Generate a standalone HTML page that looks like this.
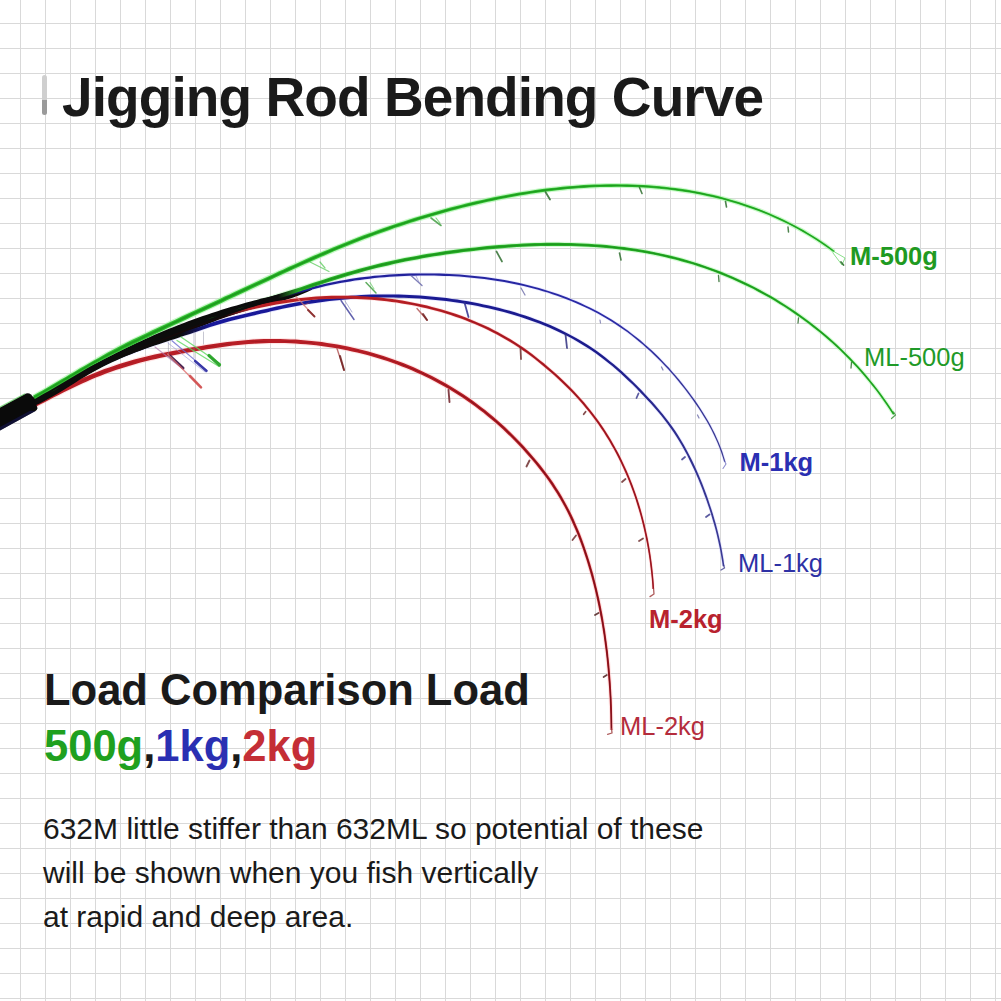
<!DOCTYPE html>
<html><head><meta charset="utf-8">
<style>
html,body{margin:0;padding:0;}
body{width:1001px;height:1001px;overflow:hidden;position:relative;background:#fff;
font-family:"Liberation Sans",sans-serif;}
.grid{position:absolute;left:0;top:0;width:1001px;height:1001px;
background-image:
linear-gradient(to right, #d9d9d9 0, #d9d9d9 1px, transparent 1px),
linear-gradient(to bottom, #d9d9d9 0, #d9d9d9 1px, transparent 1px);
background-size:25px 25px;background-position:20px 23px;}
.t{position:absolute;white-space:nowrap;line-height:1;}
#title{left:62px;top:69.5px;font-size:55px;letter-spacing:-0.92px;font-weight:bold;color:#1a1a1a;}
#bar1{position:absolute;left:42px;top:75px;width:5px;height:40px;border-radius:2.5px;
background:linear-gradient(to bottom,#cfcfcf 0,#cfcfcf 62%,#9a9a9a 62%,#9a9a9a 100%);}
#load{left:44px;top:668.5px;font-size:43.5px;font-weight:bold;color:#1a1a1a;}
#loads{left:44px;top:725px;font-size:43.5px;font-weight:bold;color:#1a1a1a;}
.g{color:#1fa01f}.b{color:#2a2fb2}.r{color:#c42e36}
#desc{left:43px;top:807px;font-size:30px;color:#1a1a1a;line-height:43.8px;}
.lab{position:absolute;white-space:nowrap;line-height:1;font-size:25.5px;}
</style></head><body>
<div class="grid"></div>
<svg id="curves" width="1001" height="1001" style="position:absolute;left:0;top:0" viewBox="0 0 1001 1001">
<defs>
<linearGradient id="gB" gradientUnits="userSpaceOnUse" x1="0" y1="0" x2="1001" y2="0"><stop offset="0.0000" stop-color="#0c0c0c"/><stop offset="0.2777" stop-color="#0c0c0c"/><stop offset="0.2997" stop-color="#28b028"/><stop offset="1.0000" stop-color="#34c234"/></linearGradient>
<linearGradient id="gC" gradientUnits="userSpaceOnUse" x1="0" y1="0" x2="1001" y2="0"><stop offset="0.0000" stop-color="#0c0c0c"/><stop offset="0.2847" stop-color="#0c0c0c"/><stop offset="0.3047" stop-color="#1e1e98"/><stop offset="0.5994" stop-color="#2a2aa6"/><stop offset="0.7293" stop-color="#3a3a8e"/></linearGradient>
<linearGradient id="gD" gradientUnits="userSpaceOnUse" x1="0" y1="0" x2="1001" y2="0"><stop offset="0.0000" stop-color="#0c0c0c"/><stop offset="0.1798" stop-color="#0c0c0c"/><stop offset="0.2118" stop-color="#18189a"/><stop offset="0.5994" stop-color="#1c1c8c"/><stop offset="0.6893" stop-color="#30308e"/><stop offset="0.7293" stop-color="#3c3c96"/></linearGradient>
<linearGradient id="gE" gradientUnits="userSpaceOnUse" x1="0" y1="0" x2="1001" y2="0"><stop offset="0.0000" stop-color="#0c0c0c"/><stop offset="0.2248" stop-color="#1a0808"/><stop offset="0.2498" stop-color="#b82024"/><stop offset="1.0000" stop-color="#bc2028"/></linearGradient>
<linearGradient id="gBand" gradientUnits="userSpaceOnUse" x1="0" y1="0" x2="1001" y2="0"><stop offset="0.0000" stop-color="#0b0b0b"/><stop offset="0.2697" stop-color="#0b0b0b"/><stop offset="0.3117" stop-color="#0b0b0b"/></linearGradient>
</defs>
<path d="M35.8,408.1 40.5,405.6 45.1,403.2 49.8,400.7 54.4,398.3 59.1,395.9 63.8,393.6 68.5,391.2 73.1,388.9 77.8,386.7 82.6,384.5 87.3,382.4 92.0,380.3 96.8,378.3 101.6,376.4 106.4,374.6 111.2,372.8 116.1,371.1 121.0,369.5 125.9,367.9 130.9,366.4 135.8,365.0 140.8,363.7 145.8,362.4 150.9,361.2 155.9,360.0 161.0,358.9 166.1,357.8 171.2,356.8 176.3,355.8 181.5,354.9 186.6,353.9 191.8,353.0 197.0,352.1 202.1,351.2 207.3,350.4 212.4,349.6 217.6,348.8 222.7,348.0 227.9,347.3 233.1,346.7 238.2,346.1 243.4,345.6 248.6,345.2 253.7,344.8 258.9,344.5 264.1,344.3 269.3,344.2 274.5,344.1 279.7,344.2 284.9,344.2 290.1,344.4 295.3,344.7 300.5,345.0 305.7,345.4 310.8,345.9 316.0,346.4 321.2,347.1 326.3,347.8 331.5,348.5 336.6,349.4 341.7,350.3 346.8,351.3 351.9,352.4 357.0,353.6 362.0,354.8 367.0,356.1 372.1,357.5 377.0,359.0 382.0,360.5 386.9,362.1 391.8,363.8 396.7,365.6 401.6,367.4 406.4,369.4 411.2,371.4 415.9,373.4 420.7,375.6 425.3,377.8 430.0,380.1 434.6,382.4 439.2,384.9 443.7,387.4 448.2,390.0 452.6,392.7 457.1,395.4 461.4,398.2 465.7,401.1 470.0,404.1 474.2,407.1 478.4,410.3 482.5,413.4 486.6,416.7 490.6,420.0 494.5,423.4 498.5,426.9 502.3,430.4 506.1,434.0 509.9,437.6 513.6,441.3 517.2,445.0 520.8,448.8 524.3,452.7 527.8,456.6 531.2,460.5 534.5,464.5 537.8,468.6 541.0,472.6 544.1,476.8 547.2,481.0 550.1,485.2 553.0,489.5 555.8,493.8 558.4,498.3 561.0,502.7 563.5,507.3 565.9,511.8 568.2,516.5 570.4,521.2 572.5,525.9 574.6,530.6 576.6,535.5 578.5,540.3 580.3,545.2 582.0,550.1 583.7,555.0 585.3,560.0 586.9,565.0 588.4,570.0 589.8,575.0 591.1,580.1 592.5,585.1 593.7,590.2 594.9,595.3 596.1,600.3 597.1,605.5 598.2,610.6 599.2,615.7 600.1,620.8 601.0,626.0 601.8,631.1 602.6,636.3 603.3,641.5 604.0,646.6 604.7,651.8 605.3,657.0 605.8,662.2 606.3,667.4 606.8,672.6 607.2,677.8 607.6,683.0 608.0,688.3 608.3,693.5 608.6,698.7 608.8,703.9 609.0,709.1 609.2,714.3 609.3,719.6 609.4,724.8 609.5,730.0 613.5,730.0 613.4,724.7 613.3,719.5 613.2,714.2 613.1,709.0 612.9,703.7 612.7,698.5 612.4,693.2 612.1,688.0 611.8,682.8 611.4,677.5 611.0,672.3 610.6,667.0 610.1,661.8 609.5,656.6 608.9,651.3 608.3,646.1 607.6,640.9 606.9,635.7 606.1,630.5 605.3,625.3 604.5,620.1 603.5,614.9 602.6,609.7 601.5,604.5 600.5,599.4 599.3,594.2 598.1,589.1 596.9,584.0 595.6,578.9 594.2,573.8 592.8,568.7 591.3,563.6 589.8,558.6 588.2,553.6 586.5,548.5 584.7,543.6 582.9,538.6 581.0,533.7 579.0,528.8 576.9,523.9 574.8,519.1 572.5,514.4 570.2,509.6 567.8,505.0 565.3,500.3 562.7,495.8 560.0,491.2 557.2,486.8 554.3,482.4 551.3,478.1 548.2,473.8 545.0,469.6 541.8,465.4 538.5,461.3 535.1,457.2 531.6,453.2 528.1,449.2 524.6,445.3 521.0,441.5 517.3,437.6 513.6,433.9 509.8,430.2 505.9,426.5 502.0,422.9 498.0,419.4 494.0,416.0 490.0,412.6 485.8,409.2 481.6,406.0 477.4,402.8 473.1,399.7 468.8,396.6 464.4,393.7 460.0,390.8 455.5,388.0 451.0,385.2 446.5,382.6 441.9,380.0 437.2,377.5 432.5,375.1 427.8,372.7 423.0,370.4 418.2,368.2 413.4,366.1 408.5,364.1 403.7,362.1 398.7,360.2 393.8,358.4 388.8,356.7 383.8,355.0 378.7,353.4 373.7,351.9 368.6,350.5 363.5,349.1 358.3,347.8 353.2,346.6 348.0,345.5 342.8,344.5 337.7,343.5 332.4,342.6 327.2,341.8 322.0,341.1 316.7,340.4 311.5,339.8 306.2,339.3 300.9,338.9 295.6,338.5 290.4,338.3 285.1,338.1 279.8,337.9 274.5,337.9 269.2,337.9 263.9,338.0 258.6,338.2 253.4,338.5 248.1,338.9 242.8,339.3 237.6,339.8 232.3,340.4 227.1,341.0 221.9,341.7 216.7,342.4 211.4,343.2 206.2,344.0 201.0,344.8 195.9,345.7 190.7,346.6 185.5,347.4 180.3,348.4 175.1,349.3 169.9,350.3 164.8,351.3 159.6,352.4 154.5,353.5 149.3,354.6 144.2,355.8 139.1,357.1 134.0,358.5 129.0,359.9 123.9,361.4 118.9,363.0 113.9,364.6 108.9,366.3 104.0,368.1 99.1,370.0 94.2,371.9 89.3,373.9 84.5,376.0 79.7,378.1 74.9,380.3 70.1,382.6 65.3,384.9 60.6,387.2 55.9,389.6 51.2,392.0 46.5,394.4 41.8,396.8 37.1,399.3 32.5,401.7Z" fill="#ffc0c0" opacity="0.4"/>
<path d="M34.9,404.1 40.0,402.0 45.0,399.8 49.8,397.4 54.6,394.9 59.4,392.3 64.1,389.6 68.7,386.8 73.3,384.0 77.9,381.2 82.4,378.5 87.0,375.7 91.6,373.1 96.2,370.5 100.9,368.1 105.6,365.7 110.3,363.5 115.1,361.3 120.0,359.2 124.8,357.2 129.7,355.2 134.7,353.4 139.6,351.5 144.6,349.7 149.6,348.0 154.7,346.3 159.7,344.6 164.8,342.9 169.9,341.3 175.0,339.6 180.1,338.0 185.2,336.3 190.3,334.6 195.3,332.9 200.4,331.2 205.4,329.4 210.4,327.7 215.5,326.1 220.5,324.6 225.6,323.1 230.7,321.8 235.8,320.5 241.0,319.3 246.2,318.1 251.4,316.8 256.6,315.6 261.8,314.3 266.9,313.1 272.1,311.9 277.3,310.7 282.5,309.6 287.7,308.5 292.9,307.4 298.1,306.5 303.3,305.5 308.5,304.7 313.7,303.9 319.0,303.2 324.3,302.5 329.5,301.8 334.8,301.2 340.1,300.7 345.4,300.2 350.8,299.8 356.1,299.4 361.4,299.1 366.7,298.8 372.0,298.6 377.4,298.4 382.7,298.3 388.0,298.3 393.3,298.3 398.6,298.4 403.9,298.5 409.2,298.7 414.5,299.0 419.8,299.3 425.1,299.7 430.3,300.2 435.6,300.7 440.9,301.2 446.2,301.8 451.4,302.5 456.7,303.3 461.9,304.1 467.2,304.9 472.4,305.9 477.6,306.9 482.9,307.9 488.1,309.0 493.3,310.2 498.5,311.5 503.6,312.8 508.8,314.2 513.9,315.7 519.0,317.2 524.0,318.9 529.1,320.6 534.1,322.4 539.0,324.2 544.0,326.2 548.8,328.2 553.7,330.4 558.5,332.6 563.2,334.9 567.9,337.3 572.6,339.8 577.2,342.4 581.7,345.1 586.2,347.9 590.6,350.7 595.0,353.7 599.3,356.8 603.5,360.0 607.7,363.3 611.8,366.7 615.8,370.1 619.8,373.6 623.8,377.2 627.7,380.9 631.5,384.6 635.3,388.4 639.1,392.2 642.8,396.0 646.4,399.9 650.0,403.8 653.5,407.8 657.0,411.8 660.4,415.8 663.7,419.9 666.9,424.1 670.0,428.4 672.9,432.7 675.8,437.1 678.6,441.6 681.3,446.2 683.9,450.8 686.4,455.5 688.8,460.2 691.2,465.0 693.4,469.8 695.6,474.7 697.7,479.6 699.7,484.5 701.7,489.5 703.5,494.5 705.3,499.5 707.1,504.5 708.8,509.5 710.4,514.5 711.9,519.6 713.4,524.7 714.8,529.8 716.1,534.9 717.3,540.0 718.4,545.2 719.4,550.4 720.4,555.7 721.3,560.9 722.0,566.3 725.1,565.9 724.3,560.5 723.5,555.1 722.5,549.8 721.5,544.6 720.4,539.3 719.2,534.1 717.9,528.9 716.5,523.8 715.0,518.7 713.5,513.6 711.9,508.5 710.2,503.4 708.5,498.4 706.7,493.3 704.8,488.3 702.9,483.3 700.8,478.3 698.7,473.3 696.6,468.4 694.3,463.5 691.9,458.7 689.5,453.9 687.0,449.1 684.4,444.4 681.7,439.8 678.8,435.2 675.9,430.7 672.9,426.3 669.8,422.0 666.5,417.7 663.2,413.5 659.8,409.4 656.3,405.3 652.8,401.3 649.1,397.4 645.5,393.5 641.8,389.6 638.0,385.7 634.2,381.9 630.3,378.1 626.4,374.4 622.4,370.8 618.4,367.2 614.3,363.7 610.1,360.3 605.9,356.9 601.6,353.7 597.3,350.5 592.8,347.5 588.3,344.5 583.8,341.7 579.2,338.9 574.5,336.3 569.8,333.7 565.1,331.3 560.2,328.9 555.4,326.6 550.5,324.5 545.5,322.4 540.5,320.4 535.5,318.5 530.5,316.6 525.4,314.9 520.2,313.2 515.1,311.6 509.9,310.1 504.7,308.7 499.5,307.3 494.3,306.0 489.0,304.8 483.8,303.7 478.5,302.6 473.2,301.6 467.9,300.6 462.6,299.7 457.3,298.9 452.0,298.1 446.7,297.4 441.4,296.8 436.1,296.2 430.8,295.6 425.4,295.2 420.1,294.8 414.8,294.4 409.4,294.2 404.1,293.9 398.7,293.8 393.4,293.7 388.0,293.6 382.6,293.7 377.3,293.7 371.9,293.9 366.5,294.1 361.1,294.3 355.8,294.6 350.4,295.0 345.0,295.4 339.7,295.9 334.3,296.4 329.0,297.0 323.7,297.6 318.3,298.3 313.0,299.0 307.8,299.8 302.5,300.7 297.2,301.6 292.0,302.5 286.7,303.6 281.5,304.6 276.2,305.8 271.0,306.9 265.8,308.1 260.6,309.4 255.4,310.6 250.2,311.8 245.0,313.0 239.8,314.3 234.6,315.5 229.4,316.8 224.2,318.1 219.0,319.6 213.9,321.1 208.8,322.7 203.7,324.4 198.7,326.2 193.6,327.9 188.6,329.5 183.5,331.2 178.4,332.8 173.3,334.5 168.2,336.1 163.1,337.8 158.0,339.4 153.0,341.1 147.9,342.8 142.8,344.5 137.8,346.3 132.7,348.2 127.7,350.1 122.7,352.0 117.8,354.0 112.9,356.2 108.0,358.4 103.1,360.6 98.3,363.0 93.5,365.5 88.8,368.1 84.1,370.8 79.5,373.6 74.9,376.3 70.3,379.1 65.7,381.9 61.1,384.6 56.5,387.2 51.9,389.8 47.2,392.2 42.5,394.5 37.7,396.6 32.9,398.5Z" fill="#c0c0ff" opacity="0.4"/>
<path d="M35.2,403.6 39.8,401.3 44.3,399.0 48.8,396.6 53.3,394.2 57.8,391.8 62.2,389.3 66.6,386.9 71.1,384.4 75.5,381.9 79.9,379.4 84.2,377.0 88.6,374.5 93.0,372.1 97.5,369.7 101.9,367.3 106.3,365.0 110.8,362.7 115.3,360.5 119.8,358.4 124.3,356.3 128.9,354.2 133.5,352.3 138.1,350.3 142.8,348.5 147.5,346.6 152.2,344.8 156.9,343.0 161.6,341.2 166.3,339.4 171.0,337.6 175.8,335.7 180.5,333.9 185.2,332.1 189.9,330.3 194.6,328.5 199.3,326.7 204.0,325.0 208.7,323.3 213.5,321.6 218.2,320.0 223.0,318.4 227.8,316.9 232.6,315.5 237.4,314.1 242.2,312.8 247.1,311.5 252.0,310.3 256.9,309.2 261.8,308.1 266.7,307.1 271.6,306.1 276.6,305.3 281.6,304.4 286.5,303.7 291.5,303.0 296.5,302.3 301.5,301.7 306.5,301.2 311.5,300.8 316.5,300.4 321.5,300.1 326.5,299.8 331.6,299.6 336.6,299.5 341.6,299.5 346.6,299.5 351.7,299.6 356.7,299.7 361.7,299.9 366.7,300.2 371.7,300.6 376.7,301.0 381.7,301.5 386.7,302.0 391.7,302.7 396.7,303.4 401.6,304.1 406.6,305.0 411.5,305.9 416.4,306.9 421.3,307.9 426.2,309.0 431.1,310.2 436.0,311.5 440.8,312.9 445.6,314.3 450.4,315.8 455.2,317.4 459.9,319.0 464.6,320.8 469.3,322.6 473.9,324.5 478.5,326.4 483.1,328.5 487.6,330.6 492.1,332.8 496.5,335.1 500.9,337.5 505.3,340.0 509.6,342.6 513.8,345.2 518.0,347.9 522.2,350.8 526.3,353.7 530.3,356.7 534.3,359.7 538.3,362.8 542.2,366.0 546.0,369.3 549.9,372.5 553.7,375.9 557.4,379.3 561.1,382.7 564.7,386.2 568.3,389.7 571.8,393.3 575.2,397.0 578.6,400.7 581.9,404.5 585.2,408.3 588.3,412.2 591.4,416.2 594.4,420.2 597.4,424.2 600.2,428.4 603.0,432.5 605.7,436.7 608.3,441.0 610.8,445.3 613.2,449.7 615.6,454.1 617.9,458.6 620.1,463.0 622.3,467.6 624.3,472.2 626.3,476.8 628.2,481.4 630.0,486.1 631.8,490.8 633.5,495.5 635.1,500.3 636.6,505.1 638.1,509.9 639.5,514.8 640.8,519.6 642.0,524.5 643.2,529.4 644.3,534.3 645.3,539.3 646.3,544.2 647.1,549.2 648.0,554.1 648.7,559.1 649.4,564.1 650.0,569.1 650.5,574.1 651.0,579.1 651.4,584.1 651.8,589.1 654.9,588.9 654.5,583.9 654.1,578.8 653.7,573.8 653.1,568.7 652.5,563.7 651.9,558.7 651.1,553.6 650.3,548.6 649.4,543.6 648.5,538.6 647.5,533.6 646.4,528.7 645.2,523.7 644.0,518.8 642.7,513.9 641.3,509.0 639.8,504.1 638.3,499.2 636.7,494.4 635.0,489.6 633.2,484.9 631.4,480.1 629.5,475.4 627.5,470.8 625.4,466.1 623.3,461.5 621.0,457.0 618.7,452.5 616.3,448.0 613.9,443.6 611.3,439.2 608.7,434.9 606.0,430.6 603.2,426.3 600.3,422.2 597.4,418.0 594.3,414.0 591.2,409.9 588.0,406.0 584.7,402.1 581.4,398.3 578.0,394.5 574.5,390.8 571.0,387.1 567.3,383.5 563.7,380.0 560.0,376.5 556.2,373.0 552.4,369.7 548.5,366.3 544.6,363.0 540.7,359.8 536.7,356.6 532.7,353.5 528.6,350.5 524.4,347.5 520.2,344.7 516.0,341.9 511.7,339.2 507.3,336.5 502.9,334.0 498.4,331.6 493.9,329.2 489.4,327.0 484.8,324.8 480.2,322.7 475.5,320.7 470.8,318.7 466.1,316.9 461.3,315.1 456.5,313.4 451.7,311.8 446.9,310.3 442.0,308.8 437.1,307.4 432.2,306.1 427.2,304.9 422.3,303.7 417.3,302.7 412.3,301.7 407.3,300.7 402.3,299.8 397.3,299.1 392.3,298.3 387.2,297.7 382.2,297.1 377.1,296.6 372.1,296.1 367.0,295.8 361.9,295.5 356.8,295.2 351.8,295.1 346.7,295.0 341.6,294.9 336.5,295.0 331.4,295.1 326.4,295.3 321.3,295.5 316.2,295.8 311.1,296.2 306.1,296.6 301.0,297.1 295.9,297.7 290.9,298.3 285.8,299.0 280.8,299.8 275.8,300.6 270.8,301.5 265.8,302.4 260.8,303.5 255.8,304.5 250.9,305.7 245.9,306.9 241.0,308.1 236.1,309.5 231.2,310.8 226.4,312.3 221.5,313.8 216.7,315.3 211.9,317.0 207.1,318.6 202.3,320.3 197.6,322.1 192.8,323.8 188.1,325.6 183.4,327.4 178.7,329.2 174.0,331.0 169.2,332.8 164.5,334.6 159.8,336.4 155.1,338.2 150.3,340.0 145.6,341.8 140.9,343.7 136.2,345.6 131.5,347.5 126.8,349.5 122.2,351.5 117.6,353.6 113.0,355.8 108.4,358.0 103.9,360.3 99.4,362.7 95.0,365.0 90.5,367.4 86.1,369.9 81.6,372.3 77.2,374.8 72.8,377.2 68.4,379.7 64.0,382.2 59.6,384.6 55.2,387.0 50.7,389.4 46.3,391.8 41.8,394.1 37.3,396.4 32.8,398.6Z" fill="#ffc0c0" opacity="0.4"/>
<path d="M35.1,402.8 39.6,400.5 44.1,398.2 48.5,395.9 53.0,393.6 57.4,391.2 61.8,388.8 66.2,386.4 70.5,383.9 74.9,381.5 79.3,379.1 83.6,376.6 88.0,374.2 92.3,371.8 96.7,369.5 101.1,367.1 105.5,364.8 109.9,362.5 114.3,360.2 118.7,358.0 123.2,355.9 127.7,353.8 132.2,351.7 136.8,349.7 141.3,347.7 145.9,345.8 150.5,343.9 155.1,342.0 159.8,340.1 164.4,338.3 169.1,336.5 173.7,334.7 178.4,332.9 183.0,331.1 187.7,329.3 192.4,327.6 197.0,325.8 201.7,324.1 206.4,322.5 211.1,320.8 215.8,319.2 220.5,317.7 225.2,316.1 230.0,314.6 234.7,313.1 239.5,311.7 244.2,310.2 249.0,308.8 253.8,307.4 258.6,306.0 263.4,304.5 268.2,303.1 273.0,301.7 277.8,300.2 282.6,298.8 287.4,297.3 292.2,295.9 297.0,294.5 301.9,293.1 306.7,291.8 311.5,290.5 316.3,289.2 321.1,288.0 326.0,286.9 330.8,285.8 335.6,284.8 340.5,283.8 345.4,283.0 350.2,282.1 355.1,281.4 360.0,280.7 364.9,280.0 369.8,279.4 374.7,278.9 379.6,278.4 384.5,277.9 389.5,277.6 394.4,277.2 399.4,276.9 404.3,276.7 409.3,276.5 414.3,276.4 419.2,276.3 424.2,276.3 429.2,276.3 434.2,276.3 439.2,276.5 444.3,276.6 449.3,276.8 454.3,277.1 459.3,277.4 464.3,277.8 469.3,278.2 474.3,278.7 479.3,279.2 484.3,279.8 489.2,280.5 494.2,281.2 499.1,282.0 504.1,282.8 509.0,283.7 513.9,284.7 518.8,285.7 523.6,286.8 528.5,288.0 533.3,289.2 538.1,290.5 542.8,291.9 547.6,293.4 552.3,294.9 557.0,296.5 561.6,298.1 566.2,299.9 570.8,301.7 575.4,303.6 579.9,305.6 584.4,307.6 588.8,309.8 593.2,312.0 597.5,314.3 601.8,316.7 606.1,319.1 610.3,321.7 614.5,324.3 618.6,327.0 622.7,329.8 626.7,332.7 630.7,335.7 634.6,338.8 638.5,341.9 642.3,345.2 646.1,348.4 649.8,351.8 653.4,355.2 657.0,358.7 660.5,362.3 664.0,365.9 667.4,369.6 670.8,373.3 674.1,377.1 677.3,380.9 680.5,384.8 683.6,388.8 686.6,392.7 689.6,396.7 692.5,400.8 695.4,404.8 698.2,409.0 700.9,413.1 703.5,417.3 706.0,421.5 708.4,425.8 710.7,430.1 712.9,434.5 715.0,439.0 717.0,443.5 718.8,448.1 720.5,452.7 722.1,457.5 723.5,462.3 726.1,461.6 724.7,456.7 723.1,451.8 721.4,447.1 719.5,442.4 717.5,437.8 715.4,433.3 713.2,428.9 710.9,424.5 708.4,420.1 705.9,415.8 703.2,411.6 700.5,407.4 697.7,403.2 694.9,399.1 692.0,395.0 689.0,391.0 685.9,387.0 682.8,383.0 679.6,379.1 676.3,375.2 673.0,371.4 669.6,367.6 666.2,363.9 662.7,360.2 659.1,356.6 655.5,353.1 651.8,349.6 648.1,346.2 644.3,342.8 640.4,339.6 636.5,336.4 632.6,333.3 628.6,330.2 624.5,327.3 620.4,324.4 616.2,321.7 612.0,319.0 607.7,316.4 603.4,313.9 599.1,311.5 594.7,309.1 590.2,306.9 585.7,304.7 581.2,302.6 576.7,300.6 572.1,298.7 567.4,296.8 562.8,295.0 558.1,293.3 553.3,291.7 548.6,290.2 543.8,288.7 539.0,287.3 534.1,286.0 529.3,284.7 524.4,283.5 519.5,282.4 514.6,281.3 509.6,280.3 504.7,279.4 499.7,278.5 494.7,277.7 489.7,277.0 484.7,276.3 479.7,275.7 474.7,275.2 469.6,274.7 464.6,274.2 459.5,273.8 454.5,273.5 449.4,273.2 444.4,273.0 439.3,272.8 434.3,272.7 429.3,272.6 424.2,272.6 419.2,272.6 414.2,272.7 409.2,272.8 404.2,273.0 399.2,273.2 394.2,273.5 389.2,273.8 384.2,274.2 379.3,274.6 374.3,275.1 369.3,275.6 364.4,276.2 359.5,276.9 354.5,277.6 349.6,278.3 344.7,279.2 339.8,280.0 334.9,281.0 330.0,282.0 325.1,283.1 320.2,284.2 315.3,285.4 310.5,286.6 305.6,287.9 300.8,289.3 295.9,290.7 291.1,292.1 286.3,293.5 281.5,294.9 276.6,296.4 271.8,297.8 267.0,299.2 262.2,300.6 257.4,302.1 252.6,303.5 247.9,304.9 243.1,306.3 238.3,307.7 233.5,309.2 228.7,310.6 224.0,312.1 219.2,313.7 214.5,315.2 209.7,316.9 205.0,318.5 200.3,320.2 195.6,321.9 190.9,323.6 186.2,325.3 181.5,327.1 176.8,328.8 172.2,330.6 167.5,332.4 162.8,334.3 158.2,336.1 153.5,338.0 148.9,339.8 144.2,341.7 139.6,343.7 135.0,345.7 130.4,347.7 125.9,349.7 121.3,351.9 116.8,354.0 112.3,356.2 107.8,358.5 103.4,360.8 99.0,363.1 94.6,365.5 90.2,367.8 85.8,370.2 81.4,372.7 77.0,375.1 72.7,377.5 68.3,379.9 63.9,382.3 59.6,384.7 55.2,387.1 50.8,389.5 46.4,391.8 41.9,394.1 37.5,396.3 33.0,398.6Z" fill="#c0c0ff" opacity="0.4"/>
<path d="M35.5,403.4 41.0,400.9 46.4,398.3 51.8,395.6 57.1,392.8 62.4,389.9 67.6,386.9 72.8,384.0 77.9,381.0 83.0,378.0 88.2,375.1 93.3,372.2 98.5,369.4 103.7,366.7 109.0,364.0 114.2,361.4 119.5,358.9 124.9,356.4 130.2,353.9 135.6,351.5 141.1,349.1 146.5,346.8 151.9,344.5 157.4,342.2 162.9,339.9 168.4,337.7 173.9,335.5 179.4,333.3 184.9,331.2 190.5,329.1 196.0,327.0 201.6,324.9 207.2,322.9 212.8,320.9 218.4,319.0 224.0,317.0 229.6,315.1 235.2,313.2 240.8,311.4 246.5,309.6 252.1,307.8 257.8,306.0 263.4,304.3 269.1,302.5 274.7,300.8 280.4,299.0 286.0,297.2 291.7,295.4 297.3,293.6 303.0,291.7 308.6,289.8 314.2,287.9 319.9,286.0 325.5,284.1 331.2,282.3 336.8,280.5 342.5,278.8 348.2,277.0 354.0,275.4 359.7,273.8 365.4,272.2 371.2,270.7 376.9,269.2 382.7,267.8 388.4,266.5 394.2,265.2 399.9,263.9 405.7,262.7 411.5,261.5 417.2,260.4 423.0,259.4 428.8,258.4 434.6,257.4 440.4,256.5 446.3,255.6 452.1,254.8 457.9,254.0 463.8,253.2 469.7,252.5 475.6,251.8 481.4,251.2 487.4,250.5 493.3,250.0 499.2,249.5 505.1,249.0 511.1,248.6 517.0,248.2 523.0,247.9 528.9,247.6 534.9,247.3 540.8,247.2 546.8,247.0 552.7,247.0 558.7,247.0 564.6,247.0 570.6,247.1 576.5,247.3 582.4,247.5 588.4,247.8 594.3,248.2 600.2,248.6 606.1,249.1 612.0,249.7 617.9,250.3 623.8,251.0 629.6,251.8 635.4,252.7 641.3,253.6 647.1,254.6 652.9,255.7 658.6,256.9 664.4,258.1 670.1,259.5 675.8,260.9 681.5,262.4 687.2,264.0 692.8,265.7 698.4,267.5 704.0,269.3 709.6,271.3 715.1,273.3 720.6,275.5 726.1,277.7 731.5,280.0 736.9,282.4 742.3,284.9 747.6,287.5 752.9,290.1 758.1,292.8 763.3,295.7 768.5,298.6 773.6,301.5 778.7,304.6 783.7,307.7 788.6,311.0 793.6,314.3 798.4,317.6 803.2,321.1 808.0,324.6 812.7,328.2 817.3,331.9 821.9,335.7 826.4,339.5 830.8,343.4 835.2,347.4 839.5,351.4 843.8,355.6 847.9,359.8 852.0,364.0 856.1,368.3 860.0,372.7 863.9,377.2 867.7,381.7 871.4,386.3 875.1,391.0 878.7,395.7 882.1,400.5 885.5,405.4 888.8,410.3 892.1,415.3 895.4,413.2 892.1,408.2 888.8,403.2 885.4,398.2 881.9,393.4 878.3,388.6 874.6,383.8 870.8,379.2 867.0,374.6 863.1,370.0 859.1,365.6 855.0,361.2 850.9,356.9 846.7,352.6 842.4,348.4 838.1,344.3 833.6,340.3 829.2,336.3 824.6,332.4 820.0,328.6 815.3,324.8 810.6,321.2 805.8,317.6 800.9,314.1 796.0,310.6 791.1,307.3 786.1,304.0 781.0,300.8 775.9,297.7 770.7,294.7 765.5,291.7 760.3,288.8 755.0,286.0 749.6,283.3 744.2,280.7 738.8,278.2 733.4,275.8 727.9,273.4 722.4,271.1 716.8,268.9 711.2,266.9 705.6,264.8 699.9,262.9 694.2,261.1 688.5,259.4 682.8,257.8 677.0,256.2 671.3,254.7 665.5,253.4 659.7,252.1 653.8,250.9 648.0,249.7 642.1,248.7 636.2,247.7 630.3,246.8 624.4,246.0 618.5,245.3 612.5,244.6 606.6,244.0 600.6,243.5 594.6,243.1 588.7,242.7 582.7,242.3 576.7,242.1 570.7,241.9 564.7,241.8 558.7,241.7 552.7,241.7 546.7,241.7 540.7,241.8 534.7,242.0 528.7,242.2 522.7,242.5 516.7,242.8 510.7,243.1 504.7,243.6 498.7,244.0 492.8,244.5 486.8,245.1 480.9,245.6 474.9,246.3 469.0,246.9 463.1,247.6 457.2,248.4 451.3,249.2 445.4,250.0 439.6,250.9 433.7,251.8 427.9,252.7 422.0,253.7 416.2,254.8 410.4,255.9 404.5,257.0 398.7,258.2 392.9,259.4 387.1,260.7 381.3,262.1 375.5,263.5 369.7,264.9 363.9,266.4 358.1,268.0 352.3,269.6 346.6,271.3 340.8,273.0 335.1,274.7 329.3,276.5 323.6,278.3 317.9,280.2 312.3,282.1 306.6,283.9 301.0,285.8 295.4,287.7 289.8,289.5 284.2,291.3 278.5,293.0 272.9,294.8 267.2,296.5 261.6,298.2 255.9,300.0 250.2,301.7 244.5,303.5 238.9,305.3 233.2,307.1 227.6,309.0 221.9,310.9 216.3,312.8 210.6,314.8 205.0,316.8 199.4,318.8 193.8,320.8 188.2,322.9 182.6,325.0 177.0,327.1 171.4,329.3 165.9,331.5 160.4,333.7 154.8,336.0 149.3,338.3 143.8,340.6 138.4,342.9 132.9,345.3 127.5,347.7 122.0,350.1 116.6,352.6 111.2,355.2 105.9,357.8 100.5,360.5 95.2,363.3 90.0,366.1 84.8,369.0 79.6,371.9 74.4,374.9 69.2,377.9 64.1,380.8 58.9,383.7 53.7,386.5 48.5,389.3 43.3,391.9 38.0,394.4 32.6,396.8Z" fill="#a0f2a0" opacity="0.4"/>
<path d="M35.4,400.0 40.1,397.3 44.8,394.7 49.5,391.9 54.2,389.2 58.8,386.5 63.5,383.7 68.1,381.0 72.8,378.2 77.4,375.5 82.1,372.8 86.7,370.1 91.4,367.4 96.0,364.7 100.8,362.2 105.5,359.7 110.3,357.3 115.1,354.9 119.9,352.5 124.7,350.2 129.6,347.8 134.4,345.5 139.2,343.1 144.1,340.8 148.9,338.5 153.8,336.1 158.7,333.8 163.5,331.5 168.4,329.2 173.3,326.9 178.1,324.6 183.0,322.3 187.9,320.0 192.7,317.7 197.6,315.4 202.5,313.1 207.4,310.8 212.3,308.5 217.2,306.2 222.0,304.0 226.9,301.7 231.8,299.4 236.7,297.1 241.6,294.8 246.5,292.5 251.4,290.2 256.3,287.9 261.1,285.6 266.0,283.3 270.9,281.0 275.8,278.7 280.7,276.4 285.6,274.1 290.5,271.9 295.4,269.6 300.3,267.4 305.2,265.2 310.1,263.0 315.1,260.8 320.0,258.6 324.9,256.5 329.9,254.4 334.8,252.3 339.8,250.2 344.7,248.1 349.7,246.1 354.7,244.1 359.7,242.2 364.7,240.2 369.7,238.3 374.8,236.5 379.8,234.6 384.9,232.8 389.9,231.0 395.0,229.3 400.1,227.6 405.2,225.9 410.3,224.2 415.4,222.6 420.5,221.0 425.6,219.4 430.8,217.9 436.0,216.3 441.1,214.9 446.3,213.4 451.5,212.0 456.7,210.6 461.9,209.3 467.2,207.9 472.4,206.7 477.6,205.4 482.9,204.2 488.2,203.0 493.4,201.9 498.7,200.8 504.0,199.7 509.3,198.7 514.6,197.7 519.9,196.8 525.2,195.9 530.5,195.0 535.9,194.2 541.2,193.4 546.5,192.7 551.9,192.1 557.2,191.4 562.6,190.9 567.9,190.3 573.3,189.9 578.6,189.4 584.0,189.1 589.3,188.8 594.7,188.5 600.0,188.3 605.4,188.1 610.8,188.1 616.1,188.0 621.5,188.0 626.8,188.1 632.2,188.3 637.5,188.5 642.9,188.7 648.2,189.0 653.6,189.4 658.9,189.9 664.3,190.4 669.6,191.0 674.9,191.6 680.2,192.4 685.5,193.2 690.8,194.0 696.1,195.0 701.4,196.0 706.6,197.1 711.8,198.2 717.1,199.4 722.3,200.8 727.4,202.2 732.6,203.6 737.7,205.2 742.9,206.8 748.0,208.5 753.0,210.3 758.1,212.2 763.1,214.2 768.1,216.2 773.0,218.3 777.9,220.5 782.8,222.8 787.6,225.2 792.4,227.7 797.2,230.2 801.8,232.8 806.5,235.5 811.0,238.3 815.6,241.1 820.0,244.0 824.4,247.0 828.7,250.1 833.0,253.2 835.4,250.0 831.1,246.8 826.8,243.6 822.3,240.6 817.8,237.6 813.3,234.7 808.6,231.8 804.0,229.1 799.2,226.4 794.4,223.9 789.6,221.3 784.7,218.9 779.8,216.6 774.8,214.3 769.8,212.2 764.8,210.1 759.7,208.0 754.6,206.1 749.4,204.3 744.3,202.5 739.1,200.8 733.9,199.2 728.7,197.7 723.4,196.3 718.2,195.0 712.9,193.7 707.6,192.5 702.3,191.4 697.0,190.3 691.6,189.4 686.3,188.5 680.9,187.6 675.5,186.9 670.2,186.2 664.8,185.6 659.4,185.0 654.0,184.6 648.6,184.1 643.2,183.8 637.8,183.5 632.4,183.3 627.0,183.1 621.5,183.0 616.1,183.0 610.7,183.0 605.3,183.0 599.9,183.2 594.5,183.4 589.1,183.6 583.7,183.9 578.2,184.3 572.8,184.7 567.4,185.1 562.0,185.6 556.6,186.2 551.2,186.8 545.9,187.4 540.5,188.1 535.1,188.9 529.7,189.7 524.4,190.5 519.0,191.4 513.6,192.3 508.3,193.3 503.0,194.3 497.6,195.3 492.3,196.4 487.0,197.5 481.7,198.7 476.4,199.9 471.1,201.2 465.8,202.4 460.5,203.7 455.3,205.1 450.0,206.5 444.8,207.9 439.6,209.3 434.4,210.8 429.2,212.3 424.0,213.8 418.8,215.4 413.6,216.9 408.5,218.6 403.3,220.2 398.2,221.9 393.1,223.6 387.9,225.4 382.8,227.1 377.8,228.9 372.7,230.8 367.6,232.6 362.5,234.5 357.5,236.4 352.5,238.4 347.4,240.4 342.4,242.4 337.4,244.4 332.4,246.5 327.4,248.6 322.4,250.7 317.5,252.8 312.5,255.0 307.6,257.2 302.6,259.4 297.7,261.6 292.7,263.8 287.8,266.0 282.9,268.3 278.0,270.5 273.1,272.8 268.2,275.1 263.3,277.3 258.4,279.6 253.5,281.9 248.6,284.2 243.7,286.5 238.8,288.7 233.9,291.0 229.0,293.3 224.1,295.6 219.2,297.8 214.3,300.1 209.4,302.4 204.5,304.6 199.6,306.9 194.7,309.2 189.8,311.5 184.9,313.7 180.1,316.0 175.2,318.3 170.3,320.6 165.4,322.9 160.5,325.2 155.6,327.5 150.8,329.8 145.9,332.1 141.0,334.4 136.1,336.7 131.3,339.0 126.4,341.4 121.6,343.8 116.8,346.3 112.0,348.9 107.2,351.5 102.5,354.1 97.8,356.8 93.1,359.5 88.4,362.2 83.7,364.9 79.0,367.6 74.4,370.3 69.7,373.1 65.1,375.8 60.4,378.6 55.8,381.3 51.1,384.0 46.5,386.8 41.8,389.4 37.1,392.1 32.5,394.7Z" fill="#a0f2a0" opacity="0.55"/>
<path d="M35.3,407.1 40.0,404.6 44.6,402.2 49.3,399.8 53.9,397.3 58.6,394.9 63.3,392.6 68.0,390.2 72.7,387.9 77.4,385.7 82.1,383.5 86.8,381.4 91.6,379.3 96.4,377.3 101.2,375.4 106.0,373.5 110.9,371.8 115.8,370.1 120.7,368.4 125.6,366.9 130.5,365.4 135.5,364.0 140.5,362.6 145.6,361.3 150.6,360.1 155.7,358.9 160.8,357.8 165.9,356.7 171.0,355.7 176.1,354.7 181.3,353.8 186.4,352.8 191.6,351.9 196.8,351.0 201.9,350.2 207.1,349.3 212.3,348.5 217.4,347.7 222.6,347.0 227.8,346.3 232.9,345.6 238.1,345.0 243.3,344.5 248.5,344.1 253.7,343.7 258.9,343.4 264.1,343.2 269.3,343.1 274.5,343.0 279.7,343.1 284.9,343.1 290.1,343.3 295.4,343.6 300.6,343.9 305.8,344.3 311.0,344.8 316.1,345.3 321.3,346.0 326.5,346.7 331.7,347.5 336.8,348.3 341.9,349.3 347.0,350.3 352.1,351.4 357.2,352.5 362.3,353.8 367.3,355.1 372.4,356.5 377.4,357.9 382.3,359.5 387.3,361.1 392.2,362.8 397.1,364.6 402.0,366.4 406.8,368.3 411.6,370.3 416.4,372.4 421.1,374.6 425.8,376.8 430.5,379.1 435.1,381.5 439.7,383.9 444.3,386.5 448.8,389.1 453.2,391.7 457.6,394.5 462.0,397.3 466.3,400.2 470.6,403.2 474.9,406.3 479.0,409.4 483.2,412.6 487.3,415.9 491.3,419.2 495.3,422.6 499.2,426.1 503.1,429.6 506.9,433.2 510.7,436.8 514.4,440.5 518.0,444.3 521.6,448.1 525.1,451.9 528.6,455.9 532.0,459.8 535.4,463.8 538.7,467.9 541.9,472.0 545.0,476.1 548.1,480.3 551.0,484.6 553.9,488.9 556.7,493.3 559.4,497.7 562.0,502.2 564.5,506.7 566.9,511.3 569.2,516.0 571.4,520.7 573.5,525.4 575.6,530.2 577.6,535.0 579.5,539.9 581.3,544.8 583.1,549.7 584.7,554.7 586.4,559.7 587.9,564.7 589.4,569.7 590.8,574.7 592.2,579.8 593.5,584.8 594.8,589.9 596.0,595.0 597.1,600.1 598.2,605.2 599.3,610.4 600.2,615.5 601.2,620.6 602.1,625.8 602.9,631.0 603.7,636.1 604.4,641.3 605.1,646.5 605.8,651.7 606.4,656.9 606.9,662.1 607.4,667.3 607.9,672.5 608.3,677.7 608.7,683.0 609.1,688.2 609.4,693.4 609.7,698.6 609.9,703.9 610.1,709.1 610.3,714.3 610.4,719.5 610.5,724.8 610.6,730.0 612.4,730.0 612.3,724.7 612.2,719.5 612.1,714.3 612.0,709.0 611.8,703.8 611.6,698.5 611.3,693.3 611.0,688.1 610.7,682.8 610.3,677.6 609.9,672.4 609.5,667.1 609.0,661.9 608.4,656.7 607.9,651.5 607.2,646.2 606.5,641.0 605.8,635.8 605.1,630.6 604.2,625.4 603.4,620.3 602.5,615.1 601.5,609.9 600.5,604.8 599.4,599.6 598.2,594.5 597.1,589.4 595.8,584.3 594.5,579.2 593.2,574.1 591.7,569.0 590.3,564.0 588.7,558.9 587.1,553.9 585.4,548.9 583.7,543.9 581.9,539.0 580.0,534.1 578.0,529.2 575.9,524.4 573.8,519.6 571.6,514.8 569.2,510.1 566.8,505.5 564.3,500.9 561.7,496.3 559.0,491.8 556.2,487.4 553.4,483.0 550.4,478.7 547.3,474.4 544.1,470.2 540.9,466.1 537.6,462.0 534.2,457.9 530.8,453.9 527.3,450.0 523.8,446.1 520.2,442.2 516.5,438.4 512.8,434.7 509.0,431.0 505.2,427.3 501.3,423.8 497.3,420.2 493.3,416.8 489.3,413.4 485.1,410.1 481.0,406.9 476.8,403.7 472.5,400.6 468.2,397.5 463.8,394.6 459.4,391.7 455.0,388.9 450.5,386.2 445.9,383.5 441.3,381.0 436.7,378.5 432.0,376.1 427.3,373.7 422.6,371.4 417.8,369.3 413.0,367.1 408.1,365.1 403.3,363.1 398.3,361.2 393.4,359.4 388.4,357.7 383.4,356.0 378.4,354.5 373.4,353.0 368.3,351.5 363.2,350.2 358.1,348.9 353.0,347.7 347.8,346.6 342.6,345.6 337.5,344.6 332.3,343.7 327.1,342.9 321.8,342.1 316.6,341.5 311.4,340.9 306.1,340.4 300.8,340.0 295.6,339.6 290.3,339.4 285.0,339.2 279.8,339.0 274.5,339.0 269.2,339.0 264.0,339.1 258.7,339.3 253.4,339.6 248.2,340.0 242.9,340.4 237.7,340.9 232.5,341.4 227.2,342.1 222.0,342.8 216.8,343.5 211.6,344.3 206.4,345.1 201.2,345.9 196.0,346.8 190.9,347.6 185.7,348.5 180.5,349.4 175.3,350.4 170.2,351.4 165.0,352.4 159.8,353.4 154.7,354.5 149.6,355.7 144.5,356.9 139.4,358.2 134.3,359.5 129.3,361.0 124.2,362.5 119.2,364.0 114.3,365.7 109.3,367.4 104.4,369.1 99.5,371.0 94.6,372.9 89.7,374.9 84.9,377.0 80.1,379.1 75.3,381.3 70.6,383.6 65.8,385.9 61.1,388.2 56.4,390.6 51.7,393.0 47.0,395.4 42.3,397.8 37.6,400.2 33.0,402.7Z" fill="#b81e26"/>
<path d="M34.2,404.9 38.8,402.5 43.5,400.0 48.2,397.6 52.8,395.2 57.5,392.8 62.2,390.4 66.9,388.1 71.6,385.8 76.4,383.6 81.1,381.4 85.9,379.2 90.7,377.2 95.5,375.2 100.4,373.2 105.2,371.4 110.1,369.6 115.0,367.9 120.0,366.3 124.9,364.7 129.9,363.2 134.9,361.8 140.0,360.4 145.0,359.2 150.1,357.9 155.2,356.8 160.3,355.7 165.4,354.6 170.6,353.6 175.7,352.6 180.9,351.6 186.1,350.7 191.2,349.8 196.4,348.9 201.6,348.1 206.8,347.2 211.9,346.4 217.1,345.6 222.3,344.9 227.5,344.2 232.7,343.6 237.9,343.0 243.1,342.5 248.3,342.1 253.6,341.7 258.8,341.4 264.0,341.2 269.3,341.1 274.5,341.1 279.7,341.1 285.0,341.2 290.2,341.4 295.5,341.6 300.7,342.0 305.9,342.4 311.2,342.9 316.4,343.5 321.6,344.1 326.8,344.8 332.0,345.6 337.1,346.5 342.3,347.5 347.4,348.5 352.5,349.6 357.6,350.8 362.7,352.1 367.8,353.4 372.8,354.8 377.8,356.3 382.8,357.9 387.8,359.6 392.7,361.3 397.7,363.1 402.5,365.0 407.4,366.9 412.2,368.9 417.0,371.0 421.7,373.2 426.5,375.5 431.1,377.8 435.8,380.2 440.4,382.7 444.9,385.2 449.5,387.9 453.9,390.6 458.4,393.4 462.8,396.2 467.1,399.1 471.4,402.2 475.6,405.2 479.8,408.4 483.9,411.6 488.0,414.9 492.1,418.3 496.0,421.7 500.0,425.2 503.9,428.7 507.7,432.4 511.4,436.0 515.1,439.8 518.8,443.5 522.4,447.4 525.9,451.2 529.4,455.2 532.8,459.2 536.2,463.2 539.4,467.3 542.6,471.4 545.8,475.6 548.8,479.8 551.8,484.1 554.7,488.4 557.5,492.8 560.1,497.3 562.7,501.8 565.2,506.3 567.6,511.0 569.9,515.6 572.1,520.4 574.3,525.1 576.3,529.9 578.3,534.8 580.2,539.6 582.0,544.6 583.7,549.5 585.4,554.5 587.0,559.5 588.6,564.5 590.0,569.5 591.5,574.5 592.8,579.6 594.1,584.7 595.4,589.8 596.6,594.9 597.7,600.0 598.8,605.1 599.8,610.2 600.8,615.4 601.7,620.5 602.6,625.7 603.4,630.9 604.2,636.1 604.9,641.3 605.6,646.4 606.2,651.6 606.8,656.8 607.4,662.1 607.9,667.3 608.3,672.5 608.7,677.7 609.1,682.9 609.5,688.2 609.8,693.4 610.0,698.6 610.3,703.8 610.4,709.1 610.6,714.3 610.7,719.5 610.8,724.8 610.9,730.0 612.0,730.0 612.0,724.7 611.9,719.5 611.8,714.3 611.6,709.0 611.4,703.8 611.2,698.6 610.9,693.3 610.6,688.1 610.3,682.9 609.9,677.6 609.5,672.4 609.0,667.2 608.5,661.9 608.0,656.7 607.4,651.5 606.7,646.3 606.1,641.1 605.3,635.9 604.6,630.7 603.7,625.5 602.8,620.4 601.9,615.2 600.9,610.0 599.9,604.9 598.8,599.7 597.7,594.6 596.5,589.5 595.2,584.4 593.9,579.3 592.5,574.3 591.1,569.2 589.6,564.2 588.1,559.1 586.4,554.1 584.8,549.1 583.0,544.2 581.2,539.3 579.3,534.4 577.3,529.5 575.2,524.7 573.1,519.9 570.8,515.2 568.5,510.5 566.1,505.9 563.6,501.3 561.0,496.8 558.3,492.3 555.5,487.9 552.6,483.5 549.6,479.2 546.5,475.0 543.4,470.8 540.1,466.7 536.8,462.6 533.5,458.6 530.0,454.6 526.6,450.7 523.0,446.8 519.4,443.0 515.7,439.2 512.0,435.5 508.2,431.8 504.4,428.2 500.5,424.6 496.5,421.1 492.5,417.7 488.5,414.4 484.4,411.1 480.2,407.8 476.0,404.7 471.8,401.6 467.5,398.6 463.1,395.7 458.7,392.8 454.2,390.1 449.8,387.4 445.2,384.8 440.6,382.2 436.0,379.7 431.4,377.4 426.7,375.0 421.9,372.8 417.2,370.6 412.4,368.5 407.5,366.5 402.7,364.6 397.8,362.7 392.9,361.0 387.9,359.3 382.9,357.6 377.9,356.1 372.9,354.6 367.8,353.2 362.8,351.9 357.7,350.6 352.6,349.5 347.4,348.4 342.3,347.3 337.1,346.4 332.0,345.5 326.8,344.7 321.6,344.0 316.4,343.4 311.2,342.8 305.9,342.3 300.7,341.9 295.5,341.6 290.2,341.3 285.0,341.1 279.7,341.0 274.5,341.0 269.3,341.0 264.0,341.1 258.8,341.3 253.6,341.6 248.3,342.0 243.1,342.4 237.9,342.9 232.7,343.5 227.5,344.1 222.3,344.8 217.1,345.6 211.9,346.3 206.8,347.1 201.6,348.0 196.4,348.9 191.2,349.7 186.1,350.6 180.9,351.6 175.7,352.5 170.6,353.5 165.4,354.5 160.3,355.6 155.2,356.7 150.1,357.9 145.0,359.1 139.9,360.4 134.9,361.7 129.9,363.1 124.9,364.6 119.9,366.2 115.0,367.8 110.1,369.5 105.2,371.3 100.3,373.1 95.5,375.1 90.7,377.1 85.9,379.1 81.1,381.3 76.3,383.5 71.6,385.7 66.9,388.0 62.2,390.3 57.5,392.7 52.8,395.1 48.1,397.5 43.4,400.0 38.8,402.4 34.1,404.8Z" fill="#6a0c16" opacity="0.8"/>
<path d="M30.6,399.1 35.1,396.6 39.5,394.0 44.0,391.5 48.5,389.0 53.0,386.5 57.5,384.0 62.0,381.5 66.5,379.0 71.1,376.5 75.6,374.0 80.1,371.6 84.7,369.1 89.2,366.7 93.8,364.3 98.4,361.9 102.9,359.5 107.5,357.2 112.1,354.9 116.8,352.6 121.4,350.3 126.0,348.0 130.7,345.8 135.3,343.6 140.0,341.4 144.7,339.3 149.4,337.2 154.1,335.1 158.9,333.1 163.6,331.1 168.4,329.1 173.1,327.2 177.9,325.3 182.7,323.4 187.6,321.6 192.4,319.8 197.3,318.0 202.1,316.3 207.0,314.7 211.9,313.0 216.8,311.4 221.7,309.8 226.7,308.3 231.6,306.8 236.6,305.4 241.5,303.9 246.5,302.6 251.5,301.2 256.5,299.9 261.5,298.6 266.5,297.4 271.6,296.2 276.6,295.0 281.7,293.8 286.7,292.7 291.8,291.7 296.8,290.6 301.9,289.6 307.0,288.7 312.1,287.7 311.9,289.8 307.2,292.0 302.4,294.1 297.5,295.9 292.6,297.7 287.7,299.3 282.7,300.8 277.7,302.2 272.6,303.6 267.6,304.9 262.5,306.2 257.5,307.5 252.5,308.9 247.5,310.3 242.5,311.7 237.5,313.3 232.6,314.9 227.7,316.6 222.8,318.3 217.9,320.1 213.1,322.0 208.3,323.8 203.4,325.7 198.6,327.6 193.8,329.6 189.0,331.5 184.2,333.5 179.3,335.4 174.5,337.3 169.7,339.2 164.8,341.1 160.0,343.0 155.1,344.8 150.3,346.6 145.4,348.5 140.6,350.4 135.7,352.2 130.9,354.2 126.1,356.1 121.4,358.1 116.6,360.2 111.9,362.3 107.2,364.5 102.6,366.8 98.0,369.2 93.4,371.7 88.9,374.2 84.5,376.9 80.0,379.6 75.6,382.4 71.2,385.2 66.8,387.9 62.4,390.7 57.9,393.4 53.5,396.1 48.9,398.6 44.4,401.1 39.7,403.4 35.0,405.5 30.2,407.4Z" fill="#0b0b0b"/>
<path d="M34.7,403.3 39.7,401.3 44.7,399.1 49.5,396.7 54.3,394.2 59.0,391.6 63.7,388.9 68.3,386.2 72.9,383.4 77.5,380.6 82.1,377.8 86.6,375.1 91.2,372.4 95.9,369.9 100.5,367.4 105.3,365.0 110.0,362.8 114.8,360.6 119.7,358.5 124.5,356.5 129.5,354.5 134.4,352.6 139.4,350.8 144.4,349.0 149.4,347.3 154.5,345.6 159.5,343.9 164.6,342.2 169.7,340.5 174.8,338.9 179.8,337.2 184.9,335.6 190.0,333.9 195.1,332.2 200.1,330.5 205.2,328.7 210.2,327.0 215.2,325.4 220.3,323.9 225.4,322.4 230.5,321.1 235.6,319.8 240.8,318.6 246.0,317.3 251.2,316.1 256.4,314.8 261.6,313.6 266.8,312.4 272.0,311.1 277.2,310.0 282.4,308.8 287.6,307.7 292.8,306.7 298.0,305.7 303.2,304.8 308.4,304.0 313.6,303.2 318.9,302.4 324.2,301.7 329.4,301.1 334.7,300.5 340.1,300.0 345.4,299.5 350.7,299.0 356.0,298.6 361.4,298.3 366.7,298.0 372.0,297.8 377.3,297.7 382.7,297.6 388.0,297.5 393.3,297.6 398.6,297.7 403.9,297.8 409.2,298.0 414.5,298.3 419.8,298.6 425.1,299.0 430.4,299.4 435.7,299.9 441.0,300.5 446.2,301.1 451.5,301.8 456.8,302.5 462.0,303.3 467.3,304.2 472.5,305.1 477.8,306.1 483.0,307.2 488.2,308.3 493.5,309.5 498.6,310.8 503.8,312.1 509.0,313.5 514.1,315.0 519.2,316.5 524.3,318.2 529.3,319.9 534.3,321.7 539.3,323.5 544.2,325.5 549.1,327.6 554.0,329.7 558.8,331.9 563.6,334.2 568.3,336.6 573.0,339.1 577.6,341.7 582.1,344.4 586.6,347.2 591.0,350.1 595.4,353.1 599.7,356.2 604.0,359.4 608.1,362.7 612.3,366.1 616.3,369.6 620.3,373.1 624.3,376.7 628.2,380.4 632.1,384.1 635.9,387.8 639.6,391.7 643.3,395.5 647.0,399.4 650.6,403.3 654.1,407.3 657.6,411.3 661.0,415.3 664.3,419.5 667.5,423.7 670.6,427.9 673.6,432.3 676.5,436.7 679.3,441.2 682.0,445.8 684.6,450.4 687.1,455.1 689.5,459.9 691.8,464.7 694.1,469.5 696.3,474.4 698.4,479.3 700.4,484.3 702.4,489.2 704.2,494.2 706.1,499.2 707.8,504.2 709.5,509.3 711.1,514.3 712.6,519.4 714.1,524.5 715.5,529.6 716.8,534.7 718.0,539.9 719.1,545.0 720.2,550.3 721.1,555.5 722.0,560.8 722.8,566.2 724.3,566.0 723.6,560.6 722.7,555.3 721.8,550.0 720.8,544.7 719.6,539.5 718.4,534.3 717.1,529.1 715.8,524.0 714.3,518.9 712.8,513.8 711.2,508.7 709.5,503.7 707.8,498.6 706.0,493.6 704.1,488.6 702.2,483.6 700.1,478.6 698.0,473.6 695.9,468.7 693.6,463.8 691.3,459.0 688.8,454.2 686.3,449.5 683.7,444.8 681.0,440.2 678.2,435.6 675.3,431.1 672.3,426.7 669.2,422.4 665.9,418.2 662.6,414.0 659.2,409.9 655.7,405.8 652.2,401.8 648.6,397.9 644.9,394.0 641.2,390.1 637.5,386.2 633.7,382.4 629.8,378.7 625.9,375.0 621.9,371.3 617.9,367.8 613.8,364.3 609.6,360.9 605.4,357.5 601.2,354.3 596.8,351.1 592.4,348.1 587.9,345.1 583.4,342.3 578.8,339.6 574.2,336.9 569.5,334.4 564.7,331.9 559.9,329.6 555.1,327.3 550.2,325.1 545.2,323.1 540.3,321.1 535.3,319.2 530.2,317.3 525.1,315.6 520.0,313.9 514.9,312.3 509.7,310.8 504.5,309.4 499.3,308.1 494.1,306.8 488.9,305.5 483.6,304.4 478.3,303.3 473.1,302.3 467.8,301.3 462.5,300.5 457.2,299.6 451.9,298.9 446.6,298.1 441.3,297.5 436.0,296.9 430.7,296.4 425.4,295.9 420.0,295.5 414.7,295.2 409.4,294.9 404.0,294.7 398.7,294.5 393.3,294.4 388.0,294.4 382.6,294.4 377.3,294.5 371.9,294.6 366.6,294.8 361.2,295.1 355.8,295.4 350.5,295.7 345.1,296.2 339.7,296.6 334.4,297.2 329.1,297.8 323.7,298.4 318.4,299.1 313.2,299.8 307.9,300.6 302.6,301.4 297.4,302.3 292.1,303.3 286.9,304.3 281.6,305.4 276.4,306.5 271.2,307.7 266.0,308.9 260.8,310.1 255.6,311.3 250.4,312.6 245.2,313.8 240.0,315.0 234.8,316.2 229.6,317.5 224.4,318.8 219.2,320.3 214.1,321.8 209.0,323.5 204.0,325.2 198.9,326.9 193.9,328.6 188.8,330.3 183.7,331.9 178.7,333.6 173.6,335.2 168.5,336.8 163.4,338.5 158.3,340.1 153.2,341.8 148.1,343.5 143.1,345.3 138.0,347.0 133.0,348.9 128.0,350.8 123.0,352.7 118.1,354.7 113.2,356.8 108.3,359.0 103.4,361.3 98.6,363.7 93.9,366.2 89.2,368.8 84.5,371.5 79.9,374.2 75.3,377.0 70.7,379.7 66.1,382.5 61.5,385.2 56.9,387.9 52.2,390.4 47.5,392.9 42.8,395.2 38.0,397.3 33.1,399.2Z" fill="url(#gD)"/>
<path d="M34.9,402.9 39.5,400.6 44.0,398.3 48.5,396.0 53.0,393.6 57.4,391.1 61.9,388.7 66.3,386.2 70.7,383.7 75.1,381.3 79.5,378.8 83.9,376.3 88.3,373.9 92.7,371.4 97.1,369.0 101.5,366.7 106.0,364.3 110.4,362.1 114.9,359.8 119.5,357.7 124.0,355.6 128.6,353.6 133.2,351.6 137.8,349.7 142.5,347.8 147.2,345.9 151.9,344.1 156.6,342.3 161.3,340.5 166.1,338.7 170.8,336.9 175.5,335.0 180.2,333.2 184.9,331.4 189.6,329.6 194.3,327.8 199.0,326.0 203.8,324.3 208.5,322.6 213.2,320.9 218.0,319.3 222.8,317.7 227.6,316.2 232.4,314.8 237.2,313.4 242.1,312.1 246.9,310.8 251.8,309.6 256.7,308.5 261.6,307.4 266.6,306.4 271.5,305.4 276.5,304.5 281.4,303.7 286.4,302.9 291.4,302.2 296.4,301.6 301.4,301.0 306.4,300.5 311.4,300.0 316.5,299.6 321.5,299.3 326.5,299.1 331.5,298.9 336.6,298.8 341.6,298.7 346.6,298.7 351.7,298.8 356.7,299.0 361.7,299.2 366.8,299.5 371.8,299.8 376.8,300.2 381.8,300.7 386.8,301.3 391.8,301.9 396.8,302.6 401.7,303.4 406.7,304.2 411.6,305.1 416.6,306.1 421.5,307.2 426.4,308.3 431.3,309.5 436.2,310.8 441.0,312.1 445.8,313.6 450.6,315.1 455.4,316.7 460.2,318.3 464.9,320.1 469.6,321.9 474.2,323.8 478.8,325.7 483.4,327.8 488.0,329.9 492.4,332.2 496.9,334.5 501.3,336.9 505.7,339.4 510.0,341.9 514.2,344.6 518.4,347.3 522.6,350.2 526.7,353.1 530.8,356.1 534.8,359.1 538.7,362.3 542.6,365.5 546.5,368.7 550.4,372.0 554.2,375.3 557.9,378.7 561.6,382.2 565.2,385.7 568.8,389.2 572.3,392.8 575.8,396.5 579.2,400.2 582.5,404.0 585.7,407.9 588.9,411.8 592.0,415.7 595.0,419.7 598.0,423.8 600.8,427.9 603.6,432.1 606.3,436.4 608.9,440.6 611.4,445.0 613.9,449.3 616.3,453.8 618.6,458.2 620.8,462.7 622.9,467.3 625.0,471.9 627.0,476.5 628.9,481.1 630.7,485.8 632.5,490.5 634.2,495.3 635.8,500.1 637.3,504.9 638.8,509.7 640.2,514.6 641.5,519.4 642.7,524.3 643.9,529.2 645.0,534.2 646.0,539.1 647.0,544.1 647.9,549.0 648.7,554.0 649.5,559.0 650.1,564.0 650.7,569.0 651.3,574.0 651.8,579.0 652.2,584.0 652.5,589.0 654.1,589.0 653.8,583.9 653.4,578.9 652.9,573.9 652.4,568.8 651.8,563.8 651.1,558.8 650.4,553.8 649.6,548.8 648.7,543.8 647.8,538.8 646.7,533.8 645.6,528.8 644.5,523.9 643.2,519.0 641.9,514.1 640.6,509.2 639.1,504.3 637.6,499.5 636.0,494.7 634.3,489.9 632.5,485.1 630.7,480.4 628.8,475.7 626.8,471.1 624.7,466.4 622.6,461.9 620.4,457.3 618.1,452.8 615.7,448.4 613.2,443.9 610.7,439.6 608.1,435.3 605.4,431.0 602.6,426.8 599.7,422.6 596.8,418.5 593.7,414.4 590.6,410.4 587.4,406.5 584.2,402.6 580.8,398.8 577.4,395.0 574.0,391.3 570.4,387.6 566.8,384.0 563.2,380.5 559.5,377.0 555.7,373.6 551.9,370.2 548.1,366.9 544.2,363.6 540.2,360.4 536.2,357.2 532.2,354.1 528.1,351.1 524.0,348.1 519.8,345.3 515.6,342.5 511.3,339.8 506.9,337.2 502.5,334.7 498.1,332.2 493.6,329.9 489.1,327.6 484.5,325.5 479.9,323.4 475.2,321.4 470.5,319.4 465.8,317.6 461.1,315.8 456.3,314.1 451.5,312.5 446.6,311.0 441.8,309.5 436.9,308.2 432.0,306.9 427.1,305.6 422.1,304.5 417.2,303.4 412.2,302.4 407.2,301.5 402.2,300.6 397.2,299.8 392.2,299.1 387.1,298.4 382.1,297.8 377.1,297.3 372.0,296.9 366.9,296.5 361.9,296.2 356.8,296.0 351.8,295.8 346.7,295.7 341.6,295.7 336.5,295.7 331.5,295.8 326.4,296.0 321.3,296.3 316.2,296.6 311.2,296.9 306.1,297.4 301.1,297.9 296.0,298.4 291.0,299.1 286.0,299.8 280.9,300.5 275.9,301.3 270.9,302.2 265.9,303.2 261.0,304.2 256.0,305.3 251.1,306.4 246.1,307.6 241.2,308.9 236.3,310.2 231.4,311.6 226.6,313.0 221.7,314.5 216.9,316.1 212.1,317.7 207.3,319.3 202.6,321.0 197.8,322.8 193.1,324.5 188.4,326.3 183.7,328.1 178.9,329.9 174.2,331.7 169.5,333.5 164.8,335.3 160.1,337.1 155.3,338.9 150.6,340.7 145.9,342.5 141.2,344.4 136.5,346.3 131.8,348.2 127.1,350.2 122.5,352.2 117.9,354.3 113.3,356.5 108.8,358.7 104.3,361.0 99.8,363.3 95.3,365.7 90.9,368.1 86.4,370.5 82.0,373.0 77.6,375.4 73.2,377.9 68.8,380.4 64.4,382.8 60.0,385.3 55.5,387.7 51.1,390.1 46.6,392.5 42.2,394.8 37.7,397.1 33.2,399.3Z" fill="url(#gE)"/>
<path d="M34.0,401.1 38.6,398.9 43.1,396.6 47.6,394.2 52.0,391.8 56.5,389.4 60.9,387.0 65.3,384.5 69.7,382.1 74.1,379.6 78.5,377.1 82.9,374.7 87.4,372.2 91.8,369.8 96.2,367.4 100.7,365.0 105.1,362.7 109.6,360.4 114.1,358.2 118.7,356.0 123.2,353.9 127.9,351.9 132.5,349.9 137.2,348.0 141.8,346.1 146.5,344.2 151.3,342.4 156.0,340.6 160.7,338.8 165.4,337.0 170.1,335.2 174.9,333.4 179.6,331.6 184.3,329.8 189.0,328.0 193.7,326.2 198.4,324.4 203.2,322.7 207.9,321.0 212.7,319.3 217.5,317.7 222.2,316.1 227.1,314.6 231.9,313.2 236.8,311.8 241.6,310.5 246.5,309.2 251.4,308.0 256.4,306.9 261.3,305.8 266.3,304.8 271.2,303.8 276.2,302.9 281.2,302.1 286.2,301.3 291.2,300.6 296.2,300.0 301.2,299.5 306.3,299.0 311.3,298.5 316.4,298.1 321.4,297.8 326.5,297.6 331.5,297.4 336.6,297.3 341.6,297.2 346.7,297.3 351.7,297.3 356.8,297.5 361.8,297.7 366.9,298.0 371.9,298.4 376.9,298.9 381.9,299.4 387.0,299.9 392.0,300.6 397.0,301.3 401.9,302.1 406.9,303.0 411.9,303.9 416.8,304.9 421.8,306.0 426.7,307.1 431.6,308.4 436.5,309.6 441.3,311.0 446.2,312.5 451.0,314.0 455.8,315.6 460.5,317.3 465.3,319.0 470.0,320.9 474.6,322.8 479.3,324.8 483.9,326.9 488.4,329.0 492.9,331.3 497.4,333.6 501.8,336.0 506.2,338.5 510.5,341.1 514.8,343.8 519.0,346.5 523.1,349.4 527.2,352.3 531.3,355.3 535.3,358.4 539.3,361.6 543.2,364.8 547.1,368.1 550.9,371.4 554.7,374.7 558.4,378.1 562.1,381.6 565.8,385.1 569.4,388.7 572.9,392.3 576.3,396.0 579.7,399.7 583.0,403.6 586.3,407.4 589.5,411.3 592.6,415.3 595.6,419.3 598.5,423.4 601.4,427.6 604.1,431.8 606.8,436.0 609.4,440.3 612.0,444.7 614.4,449.1 616.8,453.5 619.1,458.0 621.3,462.5 623.4,467.0 625.5,471.6 627.5,476.3 629.4,480.9 631.2,485.6 633.0,490.4 634.6,495.1 636.2,499.9 637.8,504.7 639.2,509.6 640.6,514.4 641.9,519.3 643.2,524.2 644.3,529.1 645.4,534.1 646.4,539.0 647.4,544.0 648.3,549.0 649.1,554.0 649.8,559.0 650.5,564.0 651.1,569.0 651.6,574.0 652.1,579.0 652.5,584.0 652.8,589.0 653.8,589.0 653.5,583.9 653.1,578.9 652.6,573.9 652.0,568.9 651.4,563.8 650.8,558.8 650.0,553.8 649.2,548.8 648.3,543.8 647.4,538.9 646.3,533.9 645.2,528.9 644.1,524.0 642.8,519.1 641.5,514.2 640.1,509.3 638.7,504.5 637.1,499.6 635.5,494.8 633.8,490.1 632.1,485.3 630.2,480.6 628.3,475.9 626.3,471.3 624.2,466.7 622.1,462.1 619.9,457.6 617.6,453.1 615.2,448.6 612.7,444.2 610.2,439.9 607.5,435.6 604.8,431.3 602.0,427.1 599.2,423.0 596.2,418.9 593.2,414.8 590.1,410.8 586.9,406.9 583.6,403.1 580.3,399.2 576.9,395.5 573.4,391.8 569.9,388.2 566.3,384.6 562.6,381.1 558.9,377.6 555.2,374.2 551.4,370.8 547.5,367.5 543.6,364.3 539.7,361.1 535.7,357.9 531.7,354.8 527.6,351.8 523.5,348.9 519.3,346.1 515.1,343.3 510.8,340.6 506.4,338.0 502.1,335.5 497.6,333.1 493.1,330.8 488.6,328.6 484.1,326.4 479.5,324.3 474.8,322.3 470.1,320.4 465.4,318.6 460.7,316.9 455.9,315.2 451.1,313.6 446.3,312.1 441.4,310.7 436.6,309.3 431.7,308.0 426.8,306.8 421.8,305.7 416.9,304.6 411.9,303.6 407.0,302.7 402.0,301.9 397.0,301.1 392.0,300.4 387.0,299.8 382.0,299.2 376.9,298.7 371.9,298.3 366.9,297.9 361.8,297.6 356.8,297.4 351.7,297.3 346.7,297.2 341.6,297.2 336.6,297.2 331.5,297.3 326.4,297.5 321.4,297.8 316.3,298.1 311.3,298.5 306.3,298.9 301.2,299.4 296.2,300.0 291.2,300.6 286.2,301.3 281.2,302.1 276.2,302.9 271.2,303.8 266.3,304.8 261.3,305.8 256.4,306.9 251.4,308.0 246.5,309.2 241.6,310.5 236.8,311.8 231.9,313.2 227.1,314.6 222.2,316.1 217.4,317.7 212.7,319.3 207.9,320.9 203.2,322.6 198.4,324.4 193.7,326.2 189.0,328.0 184.3,329.8 179.6,331.6 174.9,333.4 170.1,335.2 165.4,337.0 160.7,338.8 156.0,340.6 151.2,342.4 146.5,344.2 141.8,346.1 137.2,348.0 132.5,349.9 127.9,351.9 123.2,353.9 118.7,356.0 114.1,358.2 109.6,360.4 105.1,362.7 100.7,365.0 96.2,367.4 91.8,369.8 87.4,372.2 82.9,374.6 78.5,377.1 74.1,379.6 69.7,382.1 65.3,384.5 60.9,387.0 56.5,389.4 52.0,391.8 47.6,394.2 43.1,396.5 38.6,398.8 34.0,401.1Z" fill="#7a1020" opacity="0.7"/>
<path d="M34.8,402.1 39.3,399.9 43.7,397.6 48.2,395.2 52.6,392.9 57.0,390.5 61.4,388.1 65.8,385.7 70.2,383.3 74.5,380.8 78.9,378.4 83.2,376.0 87.6,373.6 92.0,371.2 96.3,368.8 100.7,366.4 105.1,364.1 109.5,361.8 114.0,359.6 118.4,357.4 122.9,355.2 127.4,353.1 131.9,351.0 136.5,349.0 141.0,347.0 145.6,345.1 150.2,343.2 154.9,341.3 159.5,339.4 164.1,337.6 168.8,335.8 173.4,334.0 178.1,332.2 182.8,330.4 187.4,328.6 192.1,326.9 196.8,325.1 201.5,323.4 206.2,321.8 210.9,320.1 215.6,318.5 220.3,316.9 225.0,315.4 229.8,313.9 234.5,312.4 239.3,311.0 244.0,309.5 248.8,308.1 253.6,306.7 258.4,305.3 263.2,303.8 268.0,302.4 272.8,301.0 277.6,299.5 282.4,298.1 287.2,296.6 292.0,295.2 296.8,293.8 301.7,292.4 306.5,291.0 311.3,289.7 316.1,288.5 321.0,287.3 325.8,286.1 330.6,285.1 335.5,284.1 340.4,283.1 345.2,282.2 350.1,281.4 355.0,280.6 359.9,279.9 364.8,279.3 369.7,278.7 374.6,278.1 379.5,277.6 384.5,277.2 389.4,276.8 394.4,276.5 399.3,276.2 404.3,276.0 409.3,275.8 414.2,275.7 419.2,275.6 424.2,275.5 429.2,275.5 434.2,275.6 439.3,275.7 444.3,275.9 449.3,276.1 454.3,276.3 459.3,276.6 464.4,277.0 469.4,277.4 474.4,277.9 479.4,278.5 484.4,279.1 489.3,279.7 494.3,280.4 499.3,281.2 504.2,282.1 509.1,283.0 514.0,283.9 518.9,285.0 523.8,286.1 528.6,287.3 533.5,288.5 538.3,289.8 543.0,291.2 547.8,292.6 552.5,294.2 557.2,295.8 561.9,297.4 566.5,299.2 571.1,301.0 575.7,302.9 580.2,304.9 584.7,306.9 589.1,309.1 593.5,311.3 597.9,313.6 602.2,316.0 606.5,318.5 610.7,321.0 614.9,323.7 619.0,326.4 623.1,329.2 627.2,332.1 631.1,335.1 635.1,338.2 639.0,341.4 642.8,344.6 646.6,347.9 650.3,351.3 653.9,354.7 657.5,358.2 661.1,361.8 664.6,365.4 668.0,369.1 671.3,372.8 674.6,376.6 677.9,380.5 681.1,384.4 684.2,388.3 687.2,392.3 690.2,396.3 693.1,400.3 696.0,404.4 698.8,408.5 701.5,412.7 704.1,416.9 706.6,421.1 709.1,425.4 711.4,429.8 713.6,434.2 715.7,438.7 717.7,443.2 719.5,447.8 721.2,452.5 722.8,457.2 724.2,462.1 725.4,461.8 723.9,456.9 722.4,452.1 720.7,447.4 718.8,442.7 716.8,438.2 714.7,433.6 712.5,429.2 710.2,424.8 707.8,420.5 705.2,416.2 702.6,412.0 699.9,407.8 697.1,403.6 694.3,399.5 691.3,395.5 688.4,391.4 685.3,387.4 682.2,383.5 679.0,379.5 675.8,375.7 672.4,371.9 669.1,368.1 665.6,364.4 662.1,360.7 658.6,357.1 655.0,353.6 651.3,350.1 647.6,346.7 643.8,343.4 640.0,340.1 636.1,337.0 632.1,333.9 628.1,330.8 624.1,327.9 620.0,325.1 615.8,322.3 611.6,319.6 607.3,317.0 603.0,314.5 598.7,312.1 594.3,309.8 589.9,307.5 585.4,305.4 580.9,303.3 576.4,301.3 571.8,299.4 567.2,297.5 562.5,295.7 557.8,294.0 553.1,292.4 548.3,290.9 543.6,289.4 538.8,288.0 533.9,286.7 529.1,285.4 524.2,284.2 519.3,283.1 514.4,282.1 509.5,281.1 504.5,280.1 499.6,279.3 494.6,278.5 489.6,277.8 484.6,277.1 479.6,276.5 474.6,275.9 469.5,275.4 464.5,275.0 459.5,274.6 454.4,274.3 449.4,274.0 444.4,273.8 439.3,273.6 434.3,273.5 429.3,273.4 424.2,273.4 419.2,273.4 414.2,273.5 409.2,273.6 404.2,273.8 399.2,274.0 394.2,274.2 389.3,274.6 384.3,274.9 379.3,275.4 374.4,275.8 369.4,276.4 364.5,277.0 359.6,277.6 354.6,278.3 349.7,279.1 344.8,279.9 339.9,280.8 335.0,281.7 330.1,282.7 325.3,283.8 320.4,284.9 315.5,286.1 310.7,287.4 305.8,288.7 301.0,290.0 296.1,291.4 291.3,292.8 286.5,294.2 281.7,295.6 276.9,297.1 272.1,298.5 267.3,299.9 262.5,301.4 257.7,302.8 252.9,304.2 248.1,305.6 243.3,307.0 238.5,308.4 233.7,309.9 229.0,311.4 224.2,312.9 219.4,314.4 214.7,316.0 210.0,317.6 205.3,319.2 200.5,320.9 195.8,322.6 191.1,324.3 186.5,326.0 181.8,327.8 177.1,329.5 172.4,331.3 167.8,333.1 163.1,335.0 158.4,336.8 153.8,338.6 149.1,340.5 144.5,342.4 139.9,344.4 135.3,346.4 130.7,348.4 126.2,350.4 121.6,352.5 117.1,354.7 112.6,356.9 108.2,359.2 103.7,361.5 99.3,363.8 94.9,366.1 90.5,368.5 86.1,370.9 81.8,373.3 77.4,375.7 73.0,378.1 68.7,380.6 64.3,383.0 59.9,385.4 55.5,387.8 51.1,390.1 46.7,392.4 42.3,394.7 37.8,397.0 33.4,399.2Z" fill="url(#gC)"/>
<path d="M35.0,402.4 40.5,399.9 45.9,397.3 51.3,394.6 56.6,391.8 61.8,388.9 67.0,386.0 72.2,383.0 77.4,380.0 82.5,377.1 87.6,374.1 92.8,371.2 98.0,368.4 103.2,365.7 108.5,363.0 113.8,360.4 119.1,357.9 124.4,355.4 129.8,352.9 135.2,350.5 140.6,348.1 146.1,345.8 151.5,343.5 157.0,341.2 162.5,338.9 168.0,336.7 173.5,334.5 179.0,332.3 184.6,330.2 190.1,328.1 195.7,326.0 201.2,323.9 206.8,321.9 212.4,319.9 218.0,317.9 223.6,316.0 229.2,314.1 234.9,312.2 240.5,310.4 246.1,308.5 251.8,306.8 257.4,305.0 263.1,303.2 268.7,301.5 274.4,299.7 280.1,298.0 285.7,296.2 291.4,294.4 297.0,292.5 302.6,290.6 308.3,288.7 313.9,286.8 319.5,284.9 325.2,283.1 330.8,281.2 336.5,279.5 342.2,277.7 347.9,276.0 353.7,274.3 359.4,272.7 365.1,271.1 370.9,269.6 376.6,268.1 382.4,266.7 388.2,265.4 393.9,264.1 399.7,262.8 405.5,261.6 411.2,260.5 417.0,259.4 422.8,258.3 428.6,257.3 434.4,256.3 440.3,255.4 446.1,254.5 451.9,253.7 457.8,252.9 463.7,252.1 469.5,251.4 475.4,250.7 481.3,250.1 487.2,249.5 493.2,248.9 499.1,248.4 505.0,247.9 511.0,247.5 516.9,247.1 522.9,246.8 528.9,246.5 534.8,246.2 540.8,246.1 546.8,245.9 552.7,245.9 558.7,245.9 564.6,245.9 570.6,246.0 576.6,246.2 582.5,246.4 588.4,246.7 594.4,247.1 600.3,247.5 606.2,248.0 612.1,248.6 618.0,249.2 623.9,249.9 629.8,250.7 635.6,251.6 641.5,252.5 647.3,253.5 653.1,254.6 658.9,255.8 664.6,257.1 670.4,258.4 676.1,259.8 681.8,261.4 687.5,263.0 693.1,264.6 698.8,266.4 704.4,268.3 710.0,270.3 715.5,272.3 721.0,274.5 726.5,276.7 732.0,279.0 737.4,281.4 742.7,283.9 748.1,286.5 753.4,289.1 758.6,291.9 763.9,294.7 769.0,297.6 774.2,300.6 779.2,303.7 784.3,306.8 789.2,310.0 794.2,313.4 799.0,316.7 803.9,320.2 808.6,323.8 813.3,327.4 818.0,331.1 822.6,334.8 827.1,338.7 831.6,342.6 835.9,346.6 840.3,350.6 844.5,354.8 848.7,359.0 852.8,363.3 856.9,367.6 860.9,372.0 864.7,376.5 868.6,381.0 872.3,385.7 876.0,390.3 879.5,395.1 883.0,399.9 886.4,404.8 889.8,409.7 893.0,414.7 894.4,413.8 891.2,408.8 887.9,403.8 884.5,398.9 881.0,394.0 877.4,389.2 873.7,384.5 870.0,379.9 866.2,375.3 862.3,370.8 858.3,366.3 854.2,361.9 850.1,357.6 845.9,353.4 841.7,349.2 837.3,345.1 832.9,341.1 828.4,337.1 823.9,333.2 819.3,329.4 814.6,325.7 809.9,322.0 805.1,318.5 800.3,315.0 795.4,311.5 790.5,308.2 785.5,304.9 780.4,301.7 775.3,298.6 770.2,295.6 765.0,292.7 759.7,289.8 754.5,287.0 749.1,284.3 743.8,281.7 738.4,279.2 732.9,276.8 727.5,274.4 721.9,272.1 716.4,270.0 710.8,267.9 705.2,265.9 699.6,264.0 693.9,262.2 688.2,260.4 682.5,258.8 676.8,257.3 671.0,255.8 665.2,254.4 659.4,253.2 653.6,251.9 647.8,250.8 641.9,249.8 636.0,248.8 630.2,247.9 624.3,247.1 618.3,246.4 612.4,245.7 606.5,245.1 600.5,244.6 594.6,244.2 588.6,243.8 582.6,243.4 576.7,243.2 570.7,243.0 564.7,242.9 558.7,242.8 552.7,242.8 546.7,242.8 540.7,242.9 534.7,243.1 528.7,243.3 522.7,243.6 516.8,243.9 510.8,244.2 504.8,244.7 498.8,245.1 492.9,245.6 486.9,246.1 481.0,246.7 475.1,247.4 469.1,248.0 463.2,248.7 457.3,249.5 451.5,250.3 445.6,251.1 439.7,251.9 433.9,252.9 428.0,253.8 422.2,254.8 416.4,255.9 410.6,256.9 404.7,258.1 398.9,259.3 393.1,260.5 387.3,261.8 381.5,263.1 375.8,264.5 370.0,266.0 364.2,267.5 358.4,269.1 352.6,270.7 346.9,272.3 341.1,274.0 335.4,275.8 329.7,277.5 324.0,279.4 318.3,281.2 312.6,283.1 307.0,285.0 301.4,286.9 295.8,288.7 290.1,290.5 284.5,292.3 278.9,294.1 273.2,295.8 267.5,297.6 261.9,299.3 256.2,301.0 250.5,302.8 244.9,304.5 239.2,306.3 233.6,308.2 227.9,310.0 222.3,311.9 216.6,313.9 211.0,315.8 205.4,317.8 199.7,319.8 194.1,321.9 188.6,323.9 183.0,326.0 177.4,328.2 171.8,330.3 166.3,332.5 160.8,334.8 155.3,337.0 149.8,339.3 144.3,341.6 138.8,343.9 133.3,346.3 127.9,348.7 122.5,351.1 117.1,353.6 111.7,356.2 106.4,358.8 101.0,361.5 95.8,364.2 90.5,367.1 85.3,370.0 80.1,372.9 74.9,375.9 69.8,378.8 64.6,381.8 59.5,384.6 54.3,387.5 49.0,390.2 43.8,392.9 38.4,395.4 33.1,397.8Z" fill="url(#gB)"/>
<path d="M34.0,400.1 39.5,397.7 44.9,395.1 50.2,392.4 55.4,389.7 60.6,386.8 65.8,383.9 71.0,380.9 76.2,378.0 81.3,375.0 86.5,372.1 91.7,369.2 96.9,366.3 102.1,363.6 107.4,360.9 112.7,358.3 118.1,355.8 123.5,353.3 128.9,350.8 134.3,348.4 139.7,346.0 145.2,343.7 150.6,341.4 156.1,339.1 161.6,336.8 167.1,334.6 172.7,332.4 178.2,330.2 183.8,328.1 189.3,326.0 194.9,323.9 200.5,321.9 206.1,319.8 211.7,317.9 217.3,315.9 222.9,314.0 228.6,312.1 234.2,310.2 239.9,308.4 245.5,306.5 251.2,304.8 256.8,303.0 262.5,301.3 268.1,299.5 273.8,297.8 279.5,296.0 285.1,294.3 290.7,292.5 296.4,290.6 302.3,289.7 307.9,287.8 313.6,285.9 319.2,284.0 324.9,282.2 330.5,280.3 336.2,278.5 341.9,276.8 347.7,275.1 353.4,273.4 359.2,271.8 364.9,270.2 370.7,268.7 376.4,267.2 382.2,265.8 388.0,264.5 393.7,263.2 399.5,261.9 405.3,260.7 411.1,259.6 416.9,258.5 422.7,257.4 428.5,256.4 434.3,255.5 440.1,254.5 446.0,253.7 451.8,252.8 457.7,252.0 463.6,251.3 469.4,250.5 475.3,249.9 481.2,249.2 487.2,248.6 493.1,248.1 499.0,247.6 505.0,247.1 510.9,246.7 516.9,246.3 522.9,246.0 528.8,245.7 534.8,245.5 540.8,245.3 546.7,245.2 552.7,245.1 558.7,245.1 564.7,245.2 570.6,245.3 576.6,245.4 582.5,245.7 588.5,246.0 594.4,246.4 600.4,246.8 606.3,247.3 612.2,247.9 618.1,248.5 624.0,249.2 629.9,250.0 635.7,250.9 641.6,251.8 647.4,252.9 653.2,254.0 659.0,255.1 664.8,256.4 670.5,257.8 676.3,259.2 682.0,260.7 687.7,262.3 693.3,264.0 699.0,265.8 704.6,267.7 710.2,269.7 715.7,271.7 721.2,273.9 726.7,276.1 732.2,278.4 737.6,280.9 743.0,283.4 748.4,285.9 753.7,288.6 758.9,291.4 764.1,294.2 769.3,297.1 774.5,300.1 779.5,303.2 784.6,306.3 789.6,309.6 794.5,312.9 799.4,316.3 804.2,319.8 809.0,323.3 813.7,327.0 818.3,330.7 822.9,334.4 827.4,338.3 831.9,342.2 836.3,346.2 840.6,350.3 844.9,354.4 849.1,358.6 853.2,362.9 857.2,367.3 861.2,371.7 865.1,376.2 868.9,380.8 872.7,385.4 876.3,390.1 879.9,394.8 883.4,399.6 886.8,404.5 890.1,409.5 893.4,414.5 894.1,414.0 890.8,409.0 887.5,404.0 884.1,399.1 880.6,394.3 877.0,389.5 873.4,384.8 869.6,380.2 865.8,375.6 861.9,371.1 857.9,366.6 853.9,362.3 849.8,358.0 845.6,353.7 841.3,349.6 837.0,345.5 832.6,341.5 828.1,337.5 823.6,333.6 819.0,329.8 814.3,326.1 809.6,322.5 804.8,318.9 800.0,315.4 795.1,312.0 790.2,308.7 785.2,305.4 780.1,302.2 775.0,299.1 769.9,296.1 764.7,293.2 759.5,290.3 754.2,287.5 748.9,284.9 743.5,282.3 738.1,279.7 732.7,277.3 727.2,275.0 721.7,272.7 716.2,270.6 710.6,268.5 705.0,266.5 699.4,264.6 693.7,262.8 688.0,261.1 682.3,259.4 676.6,257.9 670.9,256.5 665.1,255.1 659.3,253.8 653.5,252.6 647.6,251.5 641.8,250.5 635.9,249.5 630.1,248.6 624.2,247.8 618.3,247.1 612.3,246.4 606.4,245.8 600.5,245.3 594.5,244.9 588.6,244.5 582.6,244.2 576.6,243.9 570.7,243.8 564.7,243.6 558.7,243.6 552.7,243.6 546.7,243.6 540.7,243.7 534.7,243.9 528.8,244.1 522.8,244.4 516.8,244.7 510.8,245.0 504.9,245.5 498.9,245.9 493.0,246.4 487.0,247.0 481.1,247.6 475.2,248.2 469.2,248.9 463.3,249.6 457.5,250.3 451.6,251.1 445.7,251.9 439.9,252.8 434.0,253.7 428.2,254.7 422.4,255.7 416.5,256.7 410.7,257.8 404.9,259.0 399.1,260.2 393.3,261.4 387.5,262.7 381.8,264.0 376.0,265.4 370.2,266.9 364.4,268.4 358.7,270.0 352.9,271.6 347.1,273.2 341.4,274.9 335.7,276.7 330.0,278.5 324.3,280.3 318.6,282.2 312.9,284.0 307.3,285.9 301.7,287.8 296.4,290.6 290.7,292.5 285.1,294.3 279.5,296.0 273.8,297.8 268.1,299.5 262.5,301.3 256.8,303.0 251.2,304.8 245.5,306.5 239.9,308.3 234.2,310.2 228.6,312.1 222.9,314.0 217.3,315.9 211.7,317.8 206.1,319.8 200.5,321.9 194.9,323.9 189.3,326.0 183.8,328.1 178.2,330.2 172.7,332.4 167.1,334.6 161.6,336.8 156.1,339.1 150.6,341.4 145.2,343.7 139.7,346.0 134.3,348.4 128.8,350.8 123.4,353.3 118.1,355.8 112.7,358.3 107.4,360.9 102.1,363.6 96.9,366.3 91.7,369.2 86.5,372.0 81.3,375.0 76.1,377.9 71.0,380.9 65.8,383.9 60.6,386.8 55.4,389.6 50.2,392.4 44.9,395.1 39.5,397.7 34.0,400.1Z" fill="#1c951c" opacity="0.9"/>
<path d="M34.8,398.9 39.5,396.3 44.2,393.6 48.9,390.9 53.6,388.2 58.2,385.4 62.9,382.7 67.5,379.9 72.2,377.2 76.8,374.5 81.5,371.7 86.1,369.0 90.8,366.3 95.5,363.7 100.2,361.2 105.0,358.7 109.8,356.2 114.6,353.8 119.4,351.5 124.2,349.1 129.0,346.8 133.9,344.4 138.7,342.1 143.6,339.7 148.4,337.4 153.3,335.1 158.1,332.7 163.0,330.4 167.9,328.1 172.7,325.8 177.6,323.5 182.5,321.2 187.4,318.9 192.2,316.6 197.1,314.3 202.0,312.0 206.9,309.7 211.8,307.4 216.6,305.2 221.5,302.9 226.4,300.6 231.3,298.3 236.2,296.0 241.1,293.7 246.0,291.4 250.9,289.1 255.7,286.8 260.6,284.5 265.5,282.2 270.4,279.9 275.3,277.6 280.2,275.3 285.1,273.1 290.0,270.8 294.9,268.5 299.8,266.3 304.7,264.1 309.7,261.9 314.6,259.7 319.5,257.5 324.5,255.4 329.4,253.2 334.4,251.1 339.3,249.1 344.3,247.0 349.3,245.0 354.3,243.0 359.3,241.1 364.3,239.1 369.3,237.2 374.4,235.3 379.4,233.5 384.5,231.7 389.5,229.9 394.6,228.1 399.7,226.4 404.8,224.7 409.9,223.1 415.0,221.4 420.2,219.8 425.3,218.3 430.5,216.7 435.6,215.2 440.8,213.7 446.0,212.3 451.2,210.8 456.4,209.5 461.6,208.1 466.9,206.8 472.1,205.5 477.4,204.2 482.6,203.0 487.9,201.8 493.2,200.7 498.5,199.6 503.8,198.5 509.1,197.5 514.4,196.5 519.7,195.6 525.0,194.7 530.4,193.8 535.7,193.0 541.0,192.3 546.4,191.5 551.7,190.9 557.1,190.2 562.4,189.7 567.8,189.1 573.2,188.7 578.5,188.2 583.9,187.9 589.3,187.6 594.6,187.3 600.0,187.1 605.4,186.9 610.8,186.9 616.1,186.8 621.5,186.8 626.9,186.9 632.2,187.1 637.6,187.3 643.0,187.5 648.3,187.8 653.7,188.2 659.0,188.7 664.4,189.2 669.7,189.8 675.1,190.5 680.4,191.2 685.7,192.0 691.0,192.8 696.3,193.8 701.6,194.8 706.9,195.9 712.1,197.0 717.3,198.3 722.6,199.6 727.8,201.0 732.9,202.5 738.1,204.0 743.2,205.7 748.4,207.4 753.4,209.2 758.5,211.1 763.5,213.1 768.6,215.1 773.5,217.2 778.4,219.5 783.3,221.8 788.2,224.1 793.0,226.6 797.7,229.1 802.4,231.8 807.1,234.5 811.7,237.2 816.2,240.1 820.7,243.0 825.1,246.0 829.4,249.1 833.7,252.3 834.7,250.9 830.4,247.7 826.1,244.6 821.7,241.6 817.2,238.6 812.6,235.7 808.0,232.9 803.4,230.1 798.6,227.5 793.9,224.9 789.0,222.4 784.2,220.0 779.3,217.7 774.3,215.4 769.3,213.3 764.3,211.2 759.3,209.2 754.2,207.2 749.0,205.4 743.9,203.7 738.7,202.0 733.6,200.4 728.3,198.9 723.1,197.5 717.9,196.1 712.6,194.8 707.3,193.7 702.0,192.5 696.7,191.5 691.4,190.5 686.1,189.6 680.7,188.8 675.4,188.1 670.0,187.4 664.6,186.8 659.3,186.2 653.9,185.8 648.5,185.3 643.1,185.0 637.7,184.7 632.3,184.5 626.9,184.3 621.5,184.2 616.1,184.2 610.7,184.2 605.3,184.2 599.9,184.4 594.5,184.6 589.1,184.8 583.7,185.1 578.3,185.4 572.9,185.9 567.5,186.3 562.2,186.8 556.8,187.4 551.4,188.0 546.0,188.6 540.6,189.3 535.3,190.1 529.9,190.9 524.5,191.7 519.2,192.6 513.9,193.5 508.5,194.5 503.2,195.5 497.9,196.5 492.5,197.6 487.2,198.7 481.9,199.9 476.6,201.1 471.4,202.3 466.1,203.6 460.8,204.9 455.6,206.2 450.3,207.6 445.1,209.0 439.9,210.5 434.7,211.9 429.5,213.4 424.3,214.9 419.1,216.5 414.0,218.1 408.8,219.7 403.7,221.4 398.6,223.0 393.4,224.8 388.3,226.5 383.2,228.3 378.2,230.1 373.1,231.9 368.0,233.8 363.0,235.6 357.9,237.6 352.9,239.5 347.9,241.5 342.9,243.5 337.9,245.5 332.9,247.6 327.9,249.7 322.9,251.8 318.0,253.9 313.0,256.1 308.0,258.3 303.1,260.5 298.2,262.7 293.2,264.9 288.3,267.1 283.4,269.4 278.5,271.6 273.6,273.9 268.7,276.2 263.8,278.4 258.9,280.7 254.0,283.0 249.1,285.3 244.2,287.5 239.3,289.8 234.4,292.1 229.5,294.4 224.6,296.6 219.7,298.9 214.8,301.2 209.9,303.5 205.0,305.7 200.1,308.0 195.2,310.3 190.3,312.5 185.4,314.8 180.6,317.1 175.7,319.4 170.8,321.7 165.9,324.0 161.0,326.2 156.2,328.5 151.3,330.8 146.4,333.2 141.5,335.5 136.7,337.8 131.8,340.1 126.9,342.5 122.1,344.9 117.3,347.4 112.6,350.0 107.8,352.6 103.1,355.2 98.4,357.9 93.7,360.5 89.0,363.2 84.3,365.9 79.6,368.6 75.0,371.4 70.3,374.1 65.7,376.9 61.0,379.6 56.4,382.3 51.7,385.1 47.1,387.8 42.4,390.5 37.7,393.1 33.0,395.8Z" fill="#34c234"/>
<path d="M34.3,398.1 39.1,395.5 43.8,392.8 48.4,390.1 53.1,387.4 57.8,384.7 62.4,381.9 67.1,379.2 71.7,376.4 76.3,373.7 81.0,370.9 85.7,368.2 90.3,365.6 95.0,362.9 99.7,360.3 104.5,357.8 109.3,355.3 114.1,352.9 118.9,350.4 123.7,348.1 128.5,345.7 133.4,343.3 138.2,341.0 143.1,338.7 147.9,336.3 152.8,334.0 157.6,331.7 162.5,329.4 167.4,327.1 172.3,324.8 177.1,322.5 182.0,320.2 186.9,317.9 191.8,315.6 196.6,313.3 201.5,311.0 206.4,308.7 211.3,306.4 216.2,304.2 221.1,301.9 226.0,299.6 230.8,297.3 235.7,295.0 240.6,292.7 245.5,290.4 250.4,288.1 255.3,285.8 260.2,283.5 265.1,281.3 270.0,279.0 274.9,276.7 279.8,274.4 284.7,272.1 289.6,269.9 294.5,267.6 299.4,265.4 304.3,263.2 309.3,261.0 314.2,258.8 319.1,256.6 324.1,254.5 329.0,252.4 334.0,250.3 339.0,248.2 343.9,246.1 348.9,244.1 353.9,242.1 358.9,240.2 364.0,238.3 369.0,236.4 374.0,234.5 379.1,232.6 384.2,230.8 389.2,229.0 394.3,227.3 399.4,225.6 404.5,223.9 409.6,222.2 414.8,220.6 419.9,219.0 425.1,217.4 430.2,215.9 435.4,214.4 440.6,212.9 445.8,211.5 451.0,210.0 456.2,208.6 461.4,207.3 466.7,206.0 471.9,204.7 477.2,203.4 482.5,202.2 487.7,201.1 493.0,199.9 498.3,198.8 503.6,197.8 508.9,196.7 514.3,195.8 519.6,194.8 524.9,193.9 530.3,193.1 535.6,192.3 540.9,191.5 546.3,190.8 551.6,190.1 557.0,189.5 562.4,189.0 567.7,188.4 573.1,188.0 578.5,187.5 583.9,187.2 589.2,186.9 594.6,186.6 600.0,186.4 605.4,186.3 610.7,186.2 616.1,186.2 621.5,186.2 626.9,186.3 632.3,186.4 637.6,186.6 643.0,186.9 648.4,187.2 653.7,187.6 659.1,188.1 664.5,188.6 669.8,189.2 675.1,189.9 680.5,190.6 685.8,191.4 691.1,192.3 696.4,193.2 701.7,194.2 707.0,195.3 712.2,196.5 717.5,197.7 722.7,199.1 727.9,200.5 733.1,202.0 738.3,203.5 743.4,205.2 748.5,206.9 753.6,208.7 758.7,210.6 763.7,212.6 768.7,214.6 773.7,216.8 778.7,219.0 783.5,221.3 788.4,223.7 793.2,226.2 798.0,228.7 802.7,231.4 807.3,234.1 811.9,236.8 816.4,239.7 820.9,242.7 825.3,245.7 829.7,248.8 833.9,252.0 834.5,251.3 830.2,248.1 825.8,245.0 821.4,241.9 816.9,239.0 812.4,236.1 807.8,233.3 803.1,230.5 798.4,227.9 793.6,225.3 788.8,222.9 784.0,220.4 779.1,218.1 774.1,215.9 769.1,213.7 764.1,211.6 759.1,209.6 754.0,207.7 748.9,205.9 743.7,204.2 738.6,202.5 733.4,200.9 728.2,199.4 723.0,198.0 717.7,196.7 712.5,195.4 707.2,194.2 701.9,193.1 696.6,192.1 691.3,191.1 686.0,190.2 680.6,189.4 675.3,188.7 669.9,188.0 664.6,187.4 659.2,186.8 653.8,186.4 648.5,186.0 643.1,185.6 637.7,185.3 632.3,185.1 626.9,185.0 621.5,184.9 616.1,184.8 610.7,184.8 605.3,184.9 599.9,185.1 594.6,185.2 589.2,185.5 583.8,185.8 578.4,186.1 573.0,186.6 567.6,187.0 562.2,187.5 556.9,188.1 551.5,188.7 546.1,189.3 540.7,190.0 535.4,190.8 530.0,191.6 524.7,192.4 519.3,193.3 514.0,194.2 508.7,195.2 503.3,196.2 498.0,197.3 492.7,198.4 487.4,199.5 482.1,200.7 476.8,201.9 471.5,203.1 466.3,204.4 461.0,205.7 455.8,207.0 450.6,208.4 445.3,209.8 440.1,211.3 434.9,212.7 429.7,214.2 424.6,215.8 419.4,217.3 414.2,218.9 409.1,220.6 404.0,222.2 398.8,223.9 393.7,225.6 388.6,227.3 383.5,229.1 378.5,230.9 373.4,232.8 368.3,234.6 363.3,236.5 358.3,238.4 353.2,240.4 348.2,242.4 343.2,244.4 338.2,246.4 333.2,248.5 328.3,250.6 323.3,252.7 318.3,254.8 313.4,257.0 308.4,259.2 303.5,261.4 298.6,263.6 293.7,265.8 288.7,268.0 283.8,270.3 278.9,272.5 274.0,274.8 269.1,277.1 264.2,279.4 259.3,281.7 254.4,283.9 249.5,286.2 244.6,288.5 239.7,290.8 234.8,293.1 229.9,295.3 225.0,297.6 220.2,299.9 215.3,302.2 210.4,304.5 205.5,306.7 200.6,309.0 195.7,311.3 190.8,313.6 185.9,315.8 181.0,318.1 176.2,320.4 171.3,322.7 166.4,325.0 161.5,327.3 156.7,329.6 151.8,331.9 146.9,334.2 142.0,336.5 137.2,338.9 132.3,341.2 127.5,343.6 122.6,346.0 117.8,348.4 113.1,350.9 108.3,353.5 103.6,356.1 98.8,358.7 94.1,361.3 89.4,364.0 84.8,366.7 80.1,369.4 75.4,372.1 70.8,374.9 66.1,377.6 61.5,380.4 56.8,383.1 52.2,385.9 47.5,388.6 42.9,391.3 38.2,393.9 33.5,396.6Z" fill="#1c991c" opacity="0.9"/>
<path d="M-2,408.5 L24.5,394.2 Q28,392.4 31,394.5 L33.2,397 L37.2,407 Q38,409.5 35.5,411 L-2,431.5 Z" fill="#0a0a0a"/>
<path d="M-2,428 L30,410.8 L35.5,411 L-2,431.5 Z" fill="#141450" opacity="0.6"/>
<path d="M-1,407.6 L25,393.8" stroke="#5fd05f" stroke-width="1.3" opacity="0.7" fill="none"/>
<path d="M168.4,342 L168.4,357" fill="none" stroke="#8a8aa0" stroke-width="0.8" stroke-linecap="round" stroke-linejoin="round" opacity="0.6"/>
<path d="M194,332 L194,358" fill="none" stroke="#8a8aa0" stroke-width="0.8" stroke-linecap="round" stroke-linejoin="round" opacity="0.6"/>
<path d="M203.5,332 L203.5,344" fill="none" stroke="#8a8aa0" stroke-width="0.8" stroke-linecap="round" stroke-linejoin="round" opacity="0.6"/>
<path d="M181,337 L220.5,364" fill="none" stroke="#5fd85f" stroke-width="1.3" stroke-linecap="round" stroke-linejoin="round" opacity="0.8"/>
<path d="M177,340.5 L219,366.5" fill="none" stroke="#5fd85f" stroke-width="1.3" stroke-linecap="round" stroke-linejoin="round" opacity="0.8"/>
<path d="M209,355.5 L219.5,365" fill="none" stroke="#1f9f1f" stroke-width="3.2" stroke-linecap="round" stroke-linejoin="round" opacity="0.9"/>
<path d="M172,340.7 L207,370.4" fill="none" stroke="#6c6cd0" stroke-width="1.2" stroke-linecap="round" stroke-linejoin="round" opacity="0.8"/>
<path d="M168,343 L205,372" fill="none" stroke="#9a9ae0" stroke-width="1.0" stroke-linecap="round" stroke-linejoin="round" opacity="0.6"/>
<path d="M195,361 L206.5,371" fill="none" stroke="#2a2aa0" stroke-width="2.4" stroke-linecap="round" stroke-linejoin="round" opacity="0.9"/>
<path d="M155,347 L183.7,369.5" fill="none" stroke="#b07ab0" stroke-width="1.2" stroke-linecap="round" stroke-linejoin="round" opacity="0.7"/>
<path d="M170,356 L183,368" fill="none" stroke="#3a1040" stroke-width="3.0" stroke-linecap="round" stroke-linejoin="round" opacity="0.9"/>
<path d="M167.5,354 L201,387.4" fill="none" stroke="#e07070" stroke-width="1.4" stroke-linecap="round" stroke-linejoin="round" opacity="0.8"/>
<path d="M190,376 L201,387.4" fill="none" stroke="#d05050" stroke-width="2.6" stroke-linecap="round" stroke-linejoin="round" opacity="0.9"/>
<path d="M310,262 L329,271.5" fill="none" stroke="#4fc84f" stroke-width="1.2" stroke-linecap="round" stroke-linejoin="round" opacity="0.7"/>
<path d="M320,262 L325,268" fill="none" stroke="#4fc84f" stroke-width="1.2" stroke-linecap="round" stroke-linejoin="round" opacity="0.7"/>
<path d="M431,218 L441,225.5" fill="none" stroke="#3a9a3a" stroke-width="1.6" stroke-linecap="round" stroke-linejoin="round" opacity="0.8"/>
<path d="M436,218 L440,223" fill="none" stroke="#4fc84f" stroke-width="1.2" stroke-linecap="round" stroke-linejoin="round" opacity="0.7"/>
<path d="M545.5,192 L550,199.5" fill="none" stroke="#2f6f2f" stroke-width="1.8" stroke-linecap="round" stroke-linejoin="round" opacity="0.85"/>
<path d="M639.5,187.5 L642,193.5" fill="none" stroke="#2f6f2f" stroke-width="1.6" stroke-linecap="round" stroke-linejoin="round" opacity="0.85"/>
<path d="M725.5,201.5 L726.5,207" fill="none" stroke="#2f6f2f" stroke-width="1.6" stroke-linecap="round" stroke-linejoin="round" opacity="0.85"/>
<path d="M788,227 L788.5,232" fill="none" stroke="#2f6f2f" stroke-width="1.5" stroke-linecap="round" stroke-linejoin="round" opacity="0.85"/>
<path d="M833,251 L845,258 L842,265 L833,253" fill="none" stroke="#6ed86e" stroke-width="1.0" stroke-linecap="round" stroke-linejoin="round" opacity="0.8"/>
<path d="M841,262 L843.5,265" fill="none" stroke="#2f6f2f" stroke-width="1.8" stroke-linecap="round" stroke-linejoin="round" opacity="0.9"/>
<path d="M366,282.5 L376,293" fill="none" stroke="#3a9a3a" stroke-width="1.5" stroke-linecap="round" stroke-linejoin="round" opacity="0.8"/>
<path d="M370,282.5 L374,289" fill="none" stroke="#4fc84f" stroke-width="1.1" stroke-linecap="round" stroke-linejoin="round" opacity="0.6"/>
<path d="M496.5,251.5 L502,261.5" fill="none" stroke="#2f6f2f" stroke-width="1.7" stroke-linecap="round" stroke-linejoin="round" opacity="0.85"/>
<path d="M619.5,253 L621,260" fill="none" stroke="#2f6f2f" stroke-width="1.6" stroke-linecap="round" stroke-linejoin="round" opacity="0.85"/>
<path d="M718.5,275.5 L719,281.5" fill="none" stroke="#2f6f2f" stroke-width="1.4" stroke-linecap="round" stroke-linejoin="round" opacity="0.85"/>
<path d="M798.5,318 L798,323" fill="none" stroke="#2f6f2f" stroke-width="1.3" stroke-linecap="round" stroke-linejoin="round" opacity="0.85"/>
<path d="M851.5,362.5 L851,368" fill="none" stroke="#2f6f2f" stroke-width="1.3" stroke-linecap="round" stroke-linejoin="round" opacity="0.85"/>
<path d="M893.5,412 L895.5,415 L891.5,418.5" fill="none" stroke="#2f8f2f" stroke-width="1.2" stroke-linecap="round" stroke-linejoin="round" opacity="0.8"/>
<path d="M411,275.5 L422,285.5" fill="none" stroke="#6060a8" stroke-width="1.4" stroke-linecap="round" stroke-linejoin="round" opacity="0.8"/>
<path d="M416,276 L419,282" fill="none" stroke="#8080c0" stroke-width="1.0" stroke-linecap="round" stroke-linejoin="round" opacity="0.6"/>
<path d="M521,288 L525,295" fill="none" stroke="#6060a0" stroke-width="1.3" stroke-linecap="round" stroke-linejoin="round" opacity="0.75"/>
<path d="M600,320 L600.5,323" fill="none" stroke="#6060a0" stroke-width="1.2" stroke-linecap="round" stroke-linejoin="round" opacity="0.7"/>
<path d="M661.5,367 L663,370" fill="none" stroke="#6060a0" stroke-width="1.3" stroke-linecap="round" stroke-linejoin="round" opacity="0.75"/>
<path d="M697.5,415 L699,418" fill="none" stroke="#6060a0" stroke-width="1.3" stroke-linecap="round" stroke-linejoin="round" opacity="0.75"/>
<path d="M724.5,461 L726,464 L723,468.5" fill="none" stroke="#7070c0" stroke-width="1.1" stroke-linecap="round" stroke-linejoin="round" opacity="0.8"/>
<path d="M341,300.5 L354,319.5" fill="none" stroke="#4848a0" stroke-width="1.5" stroke-linecap="round" stroke-linejoin="round" opacity="0.85"/>
<path d="M345,301 L352,312" fill="none" stroke="#8080c0" stroke-width="1.0" stroke-linecap="round" stroke-linejoin="round" opacity="0.6"/>
<path d="M464.5,302.5 L468.5,317" fill="none" stroke="#303090" stroke-width="1.8" stroke-linecap="round" stroke-linejoin="round" opacity="0.85"/>
<path d="M565.5,334.5 L567,348" fill="none" stroke="#303080" stroke-width="1.8" stroke-linecap="round" stroke-linejoin="round" opacity="0.85"/>
<path d="M638.5,393.5 L636.5,398" fill="none" stroke="#404090" stroke-width="1.8" stroke-linecap="round" stroke-linejoin="round" opacity="0.85"/>
<path d="M685,457 L682,459.5" fill="none" stroke="#404090" stroke-width="1.8" stroke-linecap="round" stroke-linejoin="round" opacity="0.85"/>
<path d="M709.5,514.5 L706,517" fill="none" stroke="#404090" stroke-width="1.8" stroke-linecap="round" stroke-linejoin="round" opacity="0.85"/>
<path d="M723.6,565 L724.5,568 L721,570" fill="none" stroke="#404090" stroke-width="1.4" stroke-linecap="round" stroke-linejoin="round" opacity="0.8"/>
<path d="M296,296.5 L314.5,316.5" fill="none" stroke="#d07070" stroke-width="1.2" stroke-linecap="round" stroke-linejoin="round" opacity="0.75"/>
<path d="M304,305 L309,303" fill="none" stroke="#b05050" stroke-width="1.0" stroke-linecap="round" stroke-linejoin="round" opacity="0.6"/>
<path d="M308,310 L314.5,316.5" fill="none" stroke="#802020" stroke-width="2.0" stroke-linecap="round" stroke-linejoin="round" opacity="0.85"/>
<path d="M417,308.5 L427,320" fill="none" stroke="#b05050" stroke-width="1.4" stroke-linecap="round" stroke-linejoin="round" opacity="0.8"/>
<path d="M423,314 L427,320" fill="none" stroke="#702020" stroke-width="2.0" stroke-linecap="round" stroke-linejoin="round" opacity="0.85"/>
<path d="M520.5,348.5 L521,359" fill="none" stroke="#703030" stroke-width="1.8" stroke-linecap="round" stroke-linejoin="round" opacity="0.85"/>
<path d="M585.6,411.7 L583.7,414.2" fill="none" stroke="#703030" stroke-width="1.8" stroke-linecap="round" stroke-linejoin="round" opacity="0.85"/>
<path d="M625.5,479 L622,482" fill="none" stroke="#703030" stroke-width="1.8" stroke-linecap="round" stroke-linejoin="round" opacity="0.85"/>
<path d="M643,538.5 L639,541" fill="none" stroke="#703030" stroke-width="1.8" stroke-linecap="round" stroke-linejoin="round" opacity="0.85"/>
<path d="M653.6,589 L654,594 L650,596.6" fill="none" stroke="#a04040" stroke-width="1.3" stroke-linecap="round" stroke-linejoin="round" opacity="0.85"/>
<path d="M337,348.5 L344,370" fill="none" stroke="#b05050" stroke-width="1.4" stroke-linecap="round" stroke-linejoin="round" opacity="0.8"/>
<path d="M340,356 L344,370" fill="none" stroke="#702020" stroke-width="2.0" stroke-linecap="round" stroke-linejoin="round" opacity="0.85"/>
<path d="M448.5,390 L449.5,402" fill="none" stroke="#702028" stroke-width="1.9" stroke-linecap="round" stroke-linejoin="round" opacity="0.85"/>
<path d="M529.5,460.5 L526.5,466.5" fill="none" stroke="#703030" stroke-width="1.9" stroke-linecap="round" stroke-linejoin="round" opacity="0.85"/>
<path d="M576,535.5 L572.5,540" fill="none" stroke="#703030" stroke-width="1.8" stroke-linecap="round" stroke-linejoin="round" opacity="0.85"/>
<path d="M598.5,613 L595,615" fill="none" stroke="#502020" stroke-width="1.8" stroke-linecap="round" stroke-linejoin="round" opacity="0.85"/>
<path d="M606.8,675 L603.6,677" fill="none" stroke="#502020" stroke-width="1.8" stroke-linecap="round" stroke-linejoin="round" opacity="0.85"/>
<path d="M611.6,729 L612,733 L607.6,734.3" fill="none" stroke="#a04040" stroke-width="1.3" stroke-linecap="round" stroke-linejoin="round" opacity="0.85"/>

</svg>
<div id="bar1"></div>
<div class="t" id="title">Jigging Rod Bending Curve</div>
<div style="position:absolute;left:72px;top:77px;width:8.9px;height:8.2px;background:#fff"></div>
<div class="t" id="load">Load Comparison Load</div>
<div class="t" id="loads"><span class="g">500g</span>,<span class="b">1kg</span>,<span class="r">2kg</span></div>
<div class="t" id="desc">632M little stiffer than 632ML so potential of these<br>will be shown when you fish vertically<br>at rapid and deep area.</div>
<div class="lab g" style="left:850px;top:244.3px;font-weight:bold;color:#1f9a22">M-500g</div>
<div class="lab g" style="left:864px;top:345.4px;color:#1f9a28">ML-500g</div>
<div class="lab b" style="left:739.5px;top:449.5px;font-weight:bold">M-1kg</div>
<div class="lab b" style="left:738px;top:551px;color:#2d31a5">ML-1kg</div>
<div class="lab r" style="left:649px;top:607px;font-weight:bold;color:#b8222e">M-2kg</div>
<div class="lab r" style="left:620px;top:714px;color:#b42c3c">ML-2kg</div>
</body></html>
